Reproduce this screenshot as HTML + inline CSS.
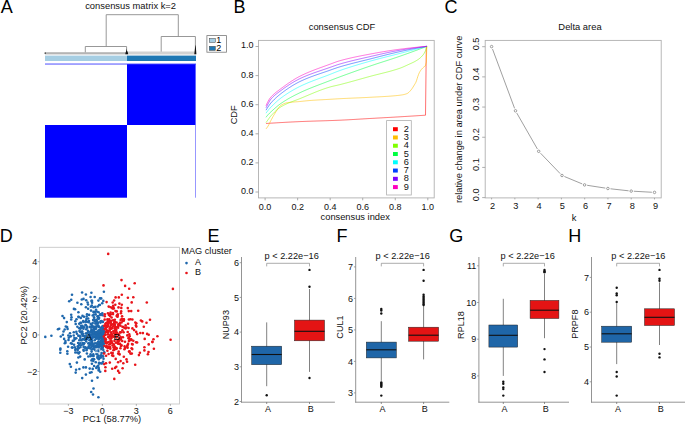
<!DOCTYPE html>
<html><head><meta charset="utf-8"><title>figure</title>
<style>
html,body{margin:0;padding:0;background:#fff;width:685px;height:425px;overflow:hidden;}
svg{display:block;}
text{font-family:"Liberation Sans", sans-serif;}
</style></head><body>
<svg width="685" height="425" viewBox="0 0 685 425">
<rect width="685" height="425" fill="#fff"/>
<text x="0.70" y="12.90" font-size="18" text-anchor="start" fill="#000" >A</text>
<text x="130.60" y="8.70" font-size="9.4" text-anchor="middle" fill="#111" >consensus matrix k=2</text>
<g fill="none" stroke="#8c8c8c" stroke-width="0.9">
<path d="M106.2,46.5 V14.7 H178.3 V36.5"/>
<path d="M85.3,52.8 V46.5 H126.6 V52.8"/>
<path d="M161.2,52.8 V36.5 H195.4 V52.8"/>
</g>
<rect x="45" y="52.2" width="82" height="2.2" fill="#b4b4b4"/>
<rect x="127" y="51.5" width="69" height="3.0" fill="#d2d2d2"/>
<path d="M125.3,54.2 Q125.6,52.2 126.3,50.8 L126.6,48.6 L127.0,50.8 Q128.0,52.2 128.2,54.2 Z" fill="#111"/>
<path d="M194.3,54.2 Q194.8,50 195.2,46.5 L195.5,44.8 L195.8,46.5 Q196.1,50 196.4,54.2 Z" fill="#111"/>
<rect x="44.6" y="52.4" width="1.2" height="1.6" fill="#444"/>
<rect x="45" y="55.6" width="82" height="5.4" fill="#a6cee3"/>
<rect x="127" y="55.6" width="69" height="5.4" fill="#1f78b4"/>
<rect x="45" y="63.4" width="151" height="1.3" fill="#7878ff"/>
<rect x="127" y="64.2" width="68.6" height="60.8" fill="#0000ff"/>
<rect x="45" y="125" width="82" height="72.7" fill="#0000ff"/>
<rect x="195.1" y="125" width="0.9" height="72.7" fill="#8c8cff"/>
<rect x="206.9" y="35.6" width="19.7" height="16.6" fill="#fff" stroke="#7a7a7a" stroke-width="0.8"/>
<rect x="209.3" y="38.4" width="6" height="4.1" fill="#a6cee3" stroke="#444" stroke-width="0.5"/>
<rect x="209.3" y="46.3" width="6" height="4.1" fill="#1f78b4" stroke="#444" stroke-width="0.5"/>
<text x="216.20" y="42.90" font-size="9" text-anchor="start" fill="#000" >1</text>
<text x="216.20" y="50.90" font-size="9" text-anchor="start" fill="#000" >2</text>
<text x="233.60" y="12.90" font-size="18" text-anchor="start" fill="#000" >B</text>
<text x="342.00" y="30.20" font-size="9.35" text-anchor="middle" fill="#111" >consensus CDF</text>
<rect x="258.5" y="40.4" width="175.7" height="157.5" fill="none" stroke="#b0b0b0" stroke-width="0.9"/>
<line x1="255.5" y1="192.00" x2="258.5" y2="192.00" stroke="#999" stroke-width="0.8"/>
<text x="253.40" y="193.90" font-size="9" text-anchor="end" fill="#111" >0.0</text>
<line x1="265.10" y1="197.9" x2="265.10" y2="200.3" stroke="#999" stroke-width="0.8"/>
<text x="265.10" y="209.70" font-size="9" text-anchor="middle" fill="#111" >0.0</text>
<line x1="255.5" y1="162.90" x2="258.5" y2="162.90" stroke="#999" stroke-width="0.8"/>
<text x="253.40" y="164.80" font-size="9" text-anchor="end" fill="#111" >0.2</text>
<line x1="297.64" y1="197.9" x2="297.64" y2="200.3" stroke="#999" stroke-width="0.8"/>
<text x="297.64" y="209.70" font-size="9" text-anchor="middle" fill="#111" >0.2</text>
<line x1="255.5" y1="133.80" x2="258.5" y2="133.80" stroke="#999" stroke-width="0.8"/>
<text x="253.40" y="135.70" font-size="9" text-anchor="end" fill="#111" >0.4</text>
<line x1="330.18" y1="197.9" x2="330.18" y2="200.3" stroke="#999" stroke-width="0.8"/>
<text x="330.18" y="209.70" font-size="9" text-anchor="middle" fill="#111" >0.4</text>
<line x1="255.5" y1="104.70" x2="258.5" y2="104.70" stroke="#999" stroke-width="0.8"/>
<text x="253.40" y="106.60" font-size="9" text-anchor="end" fill="#111" >0.6</text>
<line x1="362.72" y1="197.9" x2="362.72" y2="200.3" stroke="#999" stroke-width="0.8"/>
<text x="362.72" y="209.70" font-size="9" text-anchor="middle" fill="#111" >0.6</text>
<line x1="255.5" y1="75.60" x2="258.5" y2="75.60" stroke="#999" stroke-width="0.8"/>
<text x="253.40" y="77.50" font-size="9" text-anchor="end" fill="#111" >0.8</text>
<line x1="395.26" y1="197.9" x2="395.26" y2="200.3" stroke="#999" stroke-width="0.8"/>
<text x="395.26" y="209.70" font-size="9" text-anchor="middle" fill="#111" >0.8</text>
<line x1="255.5" y1="46.50" x2="258.5" y2="46.50" stroke="#999" stroke-width="0.8"/>
<text x="253.40" y="48.40" font-size="9" text-anchor="end" fill="#111" >1.0</text>
<line x1="427.80" y1="197.9" x2="427.80" y2="200.3" stroke="#999" stroke-width="0.8"/>
<text x="427.80" y="209.70" font-size="9" text-anchor="middle" fill="#111" >1.0</text>
<text x="237.20" y="114.80" font-size="9.3" text-anchor="middle" fill="#111" transform="rotate(-90 237.20 114.80)" >CDF</text>
<text x="355.20" y="219.80" font-size="9.3" text-anchor="middle" fill="#111" >consensus index</text>
<g fill="none" stroke-width="0.7" stroke-linejoin="round">
<polyline points="266.00,123.50 266.70,123.45 267.40,123.41 268.10,123.36 268.80,123.32 269.50,123.27 270.20,123.23 270.90,123.18 271.60,123.14 272.30,123.10 273.00,123.05 273.70,123.01 274.40,122.97 275.10,122.92 275.80,122.88 276.50,122.84 277.20,122.79 277.90,122.75 278.60,122.71 279.30,122.67 280.00,122.63 280.70,122.59 281.40,122.55 282.10,122.51 282.80,122.47 283.50,122.43 284.20,122.39 284.90,122.35 285.60,122.31 286.30,122.27 287.00,122.23 287.70,122.20 288.40,122.16 289.10,122.12 289.80,122.09 290.50,122.05 291.20,122.01 291.90,121.98 292.60,121.94 293.30,121.91 294.00,121.88 294.70,121.84 295.40,121.81 296.10,121.78 296.80,121.74 297.50,121.71 298.20,121.68 298.90,121.65 299.60,121.62 300.30,121.59 301.00,121.56 301.70,121.53 302.40,121.50 303.10,121.47 303.80,121.44 304.50,121.42 305.20,121.39 305.90,121.36 306.60,121.34 307.30,121.31 308.00,121.29 308.70,121.26 309.40,121.24 310.10,121.22 310.80,121.19 311.50,121.17 312.20,121.15 312.90,121.12 313.60,121.10 314.30,121.08 315.00,121.06 315.70,121.04 316.40,121.01 317.10,120.99 317.80,120.97 318.50,120.95 319.20,120.93 319.90,120.91 320.60,120.88 321.30,120.86 322.00,120.84 322.70,120.82 323.40,120.80 324.10,120.78 324.80,120.75 325.50,120.73 326.20,120.71 326.90,120.69 327.60,120.66 328.30,120.64 329.00,120.62 329.70,120.59 330.40,120.57 331.10,120.55 331.80,120.52 332.50,120.50 333.20,120.47 333.90,120.45 334.60,120.42 335.30,120.39 336.00,120.37 336.70,120.34 337.40,120.31 338.10,120.28 338.80,120.25 339.50,120.22 340.20,120.19 340.90,120.16 341.60,120.13 342.30,120.09 343.00,120.06 343.70,120.03 344.40,119.99 345.10,119.96 345.80,119.92 346.50,119.88 347.20,119.85 347.90,119.81 348.60,119.77 349.30,119.73 350.00,119.69 350.70,119.65 351.40,119.61 352.10,119.57 352.80,119.53 353.50,119.49 354.20,119.45 354.90,119.40 355.60,119.36 356.30,119.32 357.00,119.28 357.70,119.24 358.40,119.19 359.10,119.15 359.80,119.11 360.50,119.06 361.20,119.02 361.90,118.98 362.60,118.94 363.30,118.89 364.00,118.85 364.70,118.81 365.40,118.77 366.10,118.73 366.80,118.69 367.50,118.64 368.20,118.60 368.90,118.56 369.60,118.52 370.30,118.48 371.00,118.44 371.70,118.40 372.40,118.36 373.10,118.33 373.80,118.29 374.50,118.25 375.20,118.21 375.90,118.17 376.60,118.13 377.30,118.09 378.00,118.05 378.70,118.01 379.40,117.97 380.10,117.93 380.80,117.90 381.50,117.86 382.20,117.82 382.90,117.78 383.60,117.74 384.30,117.70 385.00,117.66 385.70,117.62 386.40,117.58 387.10,117.54 387.80,117.50 388.50,117.46 389.20,117.43 389.90,117.39 390.60,117.35 391.30,117.31 392.00,117.27 392.70,117.23 393.40,117.19 394.10,117.15 394.80,117.11 395.50,117.06 396.20,117.02 396.90,116.98 397.60,116.94 398.30,116.90 399.00,116.86 399.70,116.82 400.40,116.78 401.10,116.73 401.80,116.69 402.50,116.65 403.20,116.61 403.90,116.57 404.60,116.52 405.30,116.48 406.00,116.44 406.70,116.39 407.40,116.35 408.10,116.31 408.80,116.27 409.50,116.22 410.20,116.18 410.90,116.13 411.60,116.09 412.30,116.05 413.00,116.00 413.70,115.96 414.40,115.91 415.10,115.87 415.80,115.83 416.50,115.78 417.20,115.74 417.90,115.69 418.60,115.65 419.30,115.60 420.00,115.56 420.70,115.51 421.40,115.47 422.10,115.42 422.80,115.38 423.50,115.33 424.20,115.29 424.90,115.24 425.50,115.20 426.30,46.30" stroke="#FF0000" opacity="0.8"/>
<polyline points="266.00,128.90 266.70,128.06 267.40,127.11 268.10,126.04 268.80,124.77 269.50,123.35 270.20,121.88 270.90,120.49 271.60,119.19 272.30,117.91 273.00,116.65 273.70,115.41 274.40,114.22 275.10,113.06 275.80,111.95 276.50,110.86 277.20,109.74 277.90,108.64 278.60,107.62 279.30,106.74 280.00,106.05 280.70,105.55 281.40,105.09 282.10,104.66 282.80,104.27 283.50,103.92 284.20,103.61 284.90,103.34 285.60,103.11 286.30,102.92 287.00,102.78 287.70,102.67 288.40,102.56 289.10,102.47 289.80,102.38 290.50,102.30 291.20,102.23 291.90,102.16 292.60,102.10 293.30,102.04 294.00,101.98 294.70,101.93 295.40,101.88 296.10,101.83 296.80,101.77 297.50,101.72 298.20,101.66 298.90,101.60 299.60,101.54 300.30,101.47 301.00,101.40 301.70,101.32 302.40,101.25 303.10,101.18 303.80,101.10 304.50,101.03 305.20,100.95 305.90,100.88 306.60,100.81 307.30,100.74 308.00,100.67 308.70,100.61 309.40,100.55 310.10,100.49 310.80,100.44 311.50,100.39 312.20,100.34 312.90,100.29 313.60,100.24 314.30,100.20 315.00,100.15 315.70,100.11 316.40,100.07 317.10,100.02 317.80,99.98 318.50,99.94 319.20,99.90 319.90,99.86 320.60,99.82 321.30,99.79 322.00,99.75 322.70,99.71 323.40,99.67 324.10,99.63 324.80,99.59 325.50,99.56 326.20,99.52 326.90,99.48 327.60,99.44 328.30,99.40 329.00,99.36 329.70,99.32 330.40,99.28 331.10,99.23 331.80,99.19 332.50,99.15 333.20,99.10 333.90,99.06 334.60,99.02 335.30,98.97 336.00,98.93 336.70,98.89 337.40,98.85 338.10,98.81 338.80,98.77 339.50,98.73 340.20,98.69 340.90,98.65 341.60,98.62 342.30,98.58 343.00,98.55 343.70,98.51 344.40,98.48 345.10,98.44 345.80,98.41 346.50,98.38 347.20,98.35 347.90,98.32 348.60,98.28 349.30,98.25 350.00,98.22 350.70,98.19 351.40,98.16 352.10,98.13 352.80,98.10 353.50,98.07 354.20,98.04 354.90,98.01 355.60,97.98 356.30,97.95 357.00,97.92 357.70,97.89 358.40,97.86 359.10,97.83 359.80,97.80 360.50,97.77 361.20,97.74 361.90,97.71 362.60,97.67 363.30,97.64 364.00,97.61 364.70,97.58 365.40,97.54 366.10,97.51 366.80,97.47 367.50,97.43 368.20,97.40 368.90,97.36 369.60,97.32 370.30,97.28 371.00,97.24 371.70,97.21 372.40,97.17 373.10,97.13 373.80,97.10 374.50,97.06 375.20,97.02 375.90,96.99 376.60,96.95 377.30,96.92 378.00,96.88 378.70,96.84 379.40,96.81 380.10,96.77 380.80,96.73 381.50,96.69 382.20,96.65 382.90,96.62 383.60,96.57 384.30,96.53 385.00,96.49 385.70,96.45 386.40,96.40 387.10,96.36 387.80,96.31 388.50,96.26 389.20,96.21 389.90,96.16 390.60,96.11 391.30,96.06 392.00,96.00 392.70,95.94 393.40,95.88 394.10,95.82 394.80,95.75 395.50,95.69 396.20,95.62 396.90,95.55 397.60,95.47 398.30,95.40 399.00,95.32 399.70,95.24 400.40,95.15 401.10,95.06 401.80,94.95 402.50,94.83 403.20,94.70 403.90,94.54 404.60,94.37 405.30,94.18 406.00,93.96 406.70,93.71 407.40,93.42 408.10,92.96 408.80,92.37 409.50,91.67 410.20,90.91 410.90,90.11 411.60,89.25 412.30,88.24 413.00,87.14 413.70,85.99 414.40,84.86 415.10,83.73 415.80,82.43 416.50,80.70 417.20,78.47 417.90,76.28 418.60,74.36 419.30,72.69 420.00,71.45 420.70,70.39 421.40,69.48 422.10,68.69 422.80,67.97 423.50,67.31 424.20,66.72 424.90,66.23 425.30,66.00 426.30,62.00 426.80,46.30" stroke="#FFBF00" opacity="0.8"/>
<polyline points="266.00,122.60 266.70,121.61 267.40,120.63 268.10,119.66 268.80,118.68 269.50,117.70 270.20,116.77 270.90,115.91 271.60,115.14 272.30,114.38 273.00,113.63 273.70,112.91 274.40,112.20 275.10,111.51 275.80,110.85 276.50,110.21 277.20,109.60 277.90,109.01 278.60,108.46 279.30,107.93 280.00,107.44 280.70,106.98 281.40,106.56 282.10,106.15 282.80,105.76 283.50,105.39 284.20,105.02 284.90,104.67 285.60,104.34 286.30,104.01 287.00,103.69 287.70,103.39 288.40,103.09 289.10,102.80 289.80,102.51 290.50,102.23 291.20,101.96 291.90,101.69 292.60,101.43 293.30,101.16 294.00,100.90 294.70,100.64 295.40,100.38 296.10,100.12 296.80,99.85 297.50,99.59 298.20,99.32 298.90,99.04 299.60,98.76 300.30,98.48 301.00,98.19 301.70,97.90 302.40,97.61 303.10,97.32 303.80,97.02 304.50,96.73 305.20,96.43 305.90,96.14 306.60,95.84 307.30,95.55 308.00,95.25 308.70,94.95 309.40,94.66 310.10,94.36 310.80,94.07 311.50,93.78 312.20,93.49 312.90,93.19 313.60,92.91 314.30,92.62 315.00,92.33 315.70,92.05 316.40,91.77 317.10,91.49 317.80,91.21 318.50,90.94 319.20,90.67 319.90,90.40 320.60,90.14 321.30,89.88 322.00,89.62 322.70,89.37 323.40,89.12 324.10,88.87 324.80,88.63 325.50,88.40 326.20,88.17 326.90,87.94 327.60,87.72 328.30,87.50 329.00,87.29 329.70,87.09 330.40,86.89 331.10,86.70 331.80,86.52 332.50,86.34 333.20,86.17 333.90,86.01 334.60,85.85 335.30,85.69 336.00,85.54 336.70,85.38 337.40,85.22 338.10,85.06 338.80,84.89 339.50,84.72 340.20,84.55 340.90,84.37 341.60,84.19 342.30,84.01 343.00,83.83 343.70,83.65 344.40,83.46 345.10,83.28 345.80,83.09 346.50,82.91 347.20,82.72 347.90,82.53 348.60,82.34 349.30,82.15 350.00,81.96 350.70,81.77 351.40,81.57 352.10,81.38 352.80,81.19 353.50,80.99 354.20,80.80 354.90,80.60 355.60,80.41 356.30,80.21 357.00,80.02 357.70,79.82 358.40,79.63 359.10,79.43 359.80,79.23 360.50,79.04 361.20,78.84 361.90,78.65 362.60,78.45 363.30,78.26 364.00,78.06 364.70,77.86 365.40,77.67 366.10,77.48 366.80,77.28 367.50,77.09 368.20,76.89 368.90,76.70 369.60,76.51 370.30,76.32 371.00,76.13 371.70,75.94 372.40,75.76 373.10,75.57 373.80,75.39 374.50,75.21 375.20,75.04 375.90,74.86 376.60,74.68 377.30,74.51 378.00,74.33 378.70,74.16 379.40,73.99 380.10,73.81 380.80,73.64 381.50,73.46 382.20,73.29 382.90,73.12 383.60,72.94 384.30,72.76 385.00,72.59 385.70,72.41 386.40,72.23 387.10,72.05 387.80,71.86 388.50,71.68 389.20,71.49 389.90,71.30 390.60,71.11 391.30,70.91 392.00,70.72 392.70,70.52 393.40,70.31 394.10,70.10 394.80,69.89 395.50,69.68 396.20,69.46 396.90,69.24 397.60,69.01 398.30,68.78 399.00,68.54 399.70,68.30 400.40,68.06 401.10,67.80 401.80,67.52 402.50,67.23 403.20,66.93 403.90,66.62 404.60,66.31 405.30,65.99 406.00,65.66 406.70,65.34 407.40,65.02 408.10,64.70 408.80,64.38 409.50,64.07 410.20,63.76 410.90,63.44 411.60,63.12 412.30,62.79 413.00,62.46 413.70,62.11 414.40,61.75 415.10,61.37 415.80,60.98 416.50,60.56 417.20,60.13 417.90,59.67 418.60,59.18 419.30,58.65 420.00,58.07 420.70,57.45 421.40,56.77 422.10,56.04 422.80,55.24 423.50,54.35 424.20,53.28 424.90,52.00 425.60,50.44 426.30,48.51 427.00,46.30 427.00,46.30" stroke="#80FF00" opacity="0.8"/>
<polyline points="266.00,117.30 266.70,116.37 267.40,115.50 268.10,114.69 268.80,113.94 269.50,113.23 270.20,112.55 270.90,111.89 271.60,111.24 272.30,110.60 273.00,109.96 273.70,109.33 274.40,108.70 275.10,108.08 275.80,107.47 276.50,106.88 277.20,106.29 277.90,105.72 278.60,105.17 279.30,104.63 280.00,104.11 280.70,103.61 281.40,103.13 282.10,102.65 282.80,102.19 283.50,101.73 284.20,101.28 284.90,100.84 285.60,100.41 286.30,99.98 287.00,99.56 287.70,99.14 288.40,98.73 289.10,98.33 289.80,97.94 290.50,97.55 291.20,97.16 291.90,96.78 292.60,96.41 293.30,96.04 294.00,95.67 294.70,95.31 295.40,94.95 296.10,94.60 296.80,94.25 297.50,93.91 298.20,93.57 298.90,93.23 299.60,92.89 300.30,92.56 301.00,92.23 301.70,91.90 302.40,91.58 303.10,91.26 303.80,90.95 304.50,90.64 305.20,90.33 305.90,90.03 306.60,89.73 307.30,89.43 308.00,89.14 308.70,88.85 309.40,88.56 310.10,88.27 310.80,87.99 311.50,87.71 312.20,87.43 312.90,87.15 313.60,86.87 314.30,86.60 315.00,86.33 315.70,86.05 316.40,85.78 317.10,85.52 317.80,85.25 318.50,84.98 319.20,84.71 319.90,84.45 320.60,84.18 321.30,83.92 322.00,83.65 322.70,83.39 323.40,83.12 324.10,82.86 324.80,82.59 325.50,82.33 326.20,82.06 326.90,81.79 327.60,81.53 328.30,81.26 329.00,80.99 329.70,80.72 330.40,80.44 331.10,80.17 331.80,79.90 332.50,79.63 333.20,79.36 333.90,79.10 334.60,78.83 335.30,78.56 336.00,78.30 336.70,78.03 337.40,77.77 338.10,77.51 338.80,77.25 339.50,76.99 340.20,76.73 340.90,76.47 341.60,76.21 342.30,75.95 343.00,75.69 343.70,75.44 344.40,75.18 345.10,74.92 345.80,74.67 346.50,74.41 347.20,74.16 347.90,73.90 348.60,73.65 349.30,73.40 350.00,73.14 350.70,72.89 351.40,72.64 352.10,72.39 352.80,72.14 353.50,71.88 354.20,71.63 354.90,71.38 355.60,71.13 356.30,70.89 357.00,70.64 357.70,70.39 358.40,70.14 359.10,69.89 359.80,69.65 360.50,69.40 361.20,69.15 361.90,68.91 362.60,68.66 363.30,68.42 364.00,68.17 364.70,67.93 365.40,67.69 366.10,67.44 366.80,67.20 367.50,66.96 368.20,66.72 368.90,66.48 369.60,66.24 370.30,66.00 371.00,65.76 371.70,65.52 372.40,65.29 373.10,65.05 373.80,64.82 374.50,64.58 375.20,64.35 375.90,64.12 376.60,63.89 377.30,63.66 378.00,63.43 378.70,63.20 379.40,62.98 380.10,62.75 380.80,62.52 381.50,62.30 382.20,62.07 382.90,61.85 383.60,61.62 384.30,61.39 385.00,61.17 385.70,60.94 386.40,60.72 387.10,60.49 387.80,60.26 388.50,60.04 389.20,59.81 389.90,59.58 390.60,59.35 391.30,59.13 392.00,58.90 392.70,58.67 393.40,58.43 394.10,58.20 394.80,57.97 395.50,57.74 396.20,57.50 396.90,57.26 397.60,57.03 398.30,56.79 399.00,56.55 399.70,56.30 400.40,56.06 401.10,55.82 401.80,55.57 402.50,55.33 403.20,55.08 403.90,54.83 404.60,54.58 405.30,54.34 406.00,54.09 406.70,53.84 407.40,53.59 408.10,53.33 408.80,53.08 409.50,52.83 410.20,52.58 410.90,52.32 411.60,52.07 412.30,51.81 413.00,51.56 413.70,51.30 414.40,51.04 415.10,50.78 415.80,50.52 416.50,50.27 417.20,50.01 417.90,49.74 418.60,49.48 419.30,49.22 420.00,48.96 420.70,48.70 421.40,48.43 422.10,48.17 422.80,47.90 423.50,47.64 424.20,47.37 424.90,47.10 425.60,46.84 426.30,46.57 427.00,46.30 427.00,46.30" stroke="#00FF40" opacity="0.8"/>
<polyline points="266.00,113.20 266.70,112.21 267.40,111.27 268.10,110.38 268.80,109.53 269.50,108.72 270.20,107.95 270.90,107.20 271.60,106.49 272.30,105.78 273.00,105.07 273.70,104.38 274.40,103.70 275.10,103.04 275.80,102.38 276.50,101.74 277.20,101.11 277.90,100.50 278.60,99.90 279.30,99.33 280.00,98.77 280.70,98.23 281.40,97.70 282.10,97.19 282.80,96.68 283.50,96.18 284.20,95.69 284.90,95.21 285.60,94.73 286.30,94.26 287.00,93.80 287.70,93.35 288.40,92.90 289.10,92.46 289.80,92.02 290.50,91.59 291.20,91.17 291.90,90.76 292.60,90.35 293.30,89.95 294.00,89.55 294.70,89.16 295.40,88.78 296.10,88.40 296.80,88.03 297.50,87.66 298.20,87.30 298.90,86.95 299.60,86.60 300.30,86.25 301.00,85.91 301.70,85.58 302.40,85.25 303.10,84.93 303.80,84.61 304.50,84.30 305.20,83.99 305.90,83.69 306.60,83.39 307.30,83.09 308.00,82.80 308.70,82.51 309.40,82.22 310.10,81.94 310.80,81.66 311.50,81.39 312.20,81.11 312.90,80.84 313.60,80.57 314.30,80.30 315.00,80.04 315.70,79.77 316.40,79.51 317.10,79.25 317.80,78.99 318.50,78.73 319.20,78.47 319.90,78.21 320.60,77.95 321.30,77.69 322.00,77.43 322.70,77.17 323.40,76.91 324.10,76.65 324.80,76.39 325.50,76.13 326.20,75.86 326.90,75.60 327.60,75.33 328.30,75.06 329.00,74.79 329.70,74.52 330.40,74.24 331.10,73.96 331.80,73.68 332.50,73.40 333.20,73.12 333.90,72.84 334.60,72.56 335.30,72.28 336.00,72.00 336.70,71.73 337.40,71.46 338.10,71.19 338.80,70.93 339.50,70.68 340.20,70.43 340.90,70.18 341.60,69.94 342.30,69.70 343.00,69.46 343.70,69.22 344.40,68.99 345.10,68.75 345.80,68.52 346.50,68.29 347.20,68.06 347.90,67.83 348.60,67.60 349.30,67.38 350.00,67.15 350.70,66.93 351.40,66.71 352.10,66.49 352.80,66.27 353.50,66.05 354.20,65.84 354.90,65.62 355.60,65.41 356.30,65.19 357.00,64.98 357.70,64.77 358.40,64.56 359.10,64.35 359.80,64.14 360.50,63.94 361.20,63.73 361.90,63.53 362.60,63.32 363.30,63.12 364.00,62.92 364.70,62.71 365.40,62.51 366.10,62.31 366.80,62.11 367.50,61.91 368.20,61.71 368.90,61.51 369.60,61.31 370.30,61.12 371.00,60.92 371.70,60.72 372.40,60.53 373.10,60.34 373.80,60.15 374.50,59.96 375.20,59.77 375.90,59.58 376.60,59.39 377.30,59.21 378.00,59.02 378.70,58.84 379.40,58.66 380.10,58.48 380.80,58.29 381.50,58.11 382.20,57.93 382.90,57.76 383.60,57.58 384.30,57.40 385.00,57.22 385.70,57.04 386.40,56.87 387.10,56.69 387.80,56.51 388.50,56.33 389.20,56.16 389.90,55.98 390.60,55.80 391.30,55.63 392.00,55.45 392.70,55.27 393.40,55.10 394.10,54.92 394.80,54.74 395.50,54.56 396.20,54.38 396.90,54.20 397.60,54.02 398.30,53.84 399.00,53.66 399.70,53.48 400.40,53.30 401.10,53.11 401.80,52.93 402.50,52.75 403.20,52.56 403.90,52.38 404.60,52.20 405.30,52.01 406.00,51.83 406.70,51.65 407.40,51.46 408.10,51.28 408.80,51.09 409.50,50.91 410.20,50.73 410.90,50.54 411.60,50.36 412.30,50.18 413.00,49.99 413.70,49.81 414.40,49.62 415.10,49.44 415.80,49.25 416.50,49.07 417.20,48.89 417.90,48.70 418.60,48.52 419.30,48.33 420.00,48.15 420.70,47.96 421.40,47.78 422.10,47.59 422.80,47.41 423.50,47.22 424.20,47.04 424.90,46.85 425.60,46.67 426.30,46.49 427.00,46.30 427.00,46.30" stroke="#00FFFF" opacity="0.8"/>
<polyline points="266.00,110.20 266.70,109.04 267.40,107.92 268.10,106.85 268.80,105.80 269.50,104.80 270.20,103.86 270.90,103.03 271.60,102.24 272.30,101.47 273.00,100.73 273.70,100.01 274.40,99.31 275.10,98.64 275.80,97.98 276.50,97.34 277.20,96.72 277.90,96.11 278.60,95.52 279.30,94.95 280.00,94.39 280.70,93.83 281.40,93.29 282.10,92.76 282.80,92.23 283.50,91.70 284.20,91.19 284.90,90.68 285.60,90.18 286.30,89.68 287.00,89.19 287.70,88.71 288.40,88.24 289.10,87.77 289.80,87.31 290.50,86.86 291.20,86.41 291.90,85.97 292.60,85.54 293.30,85.12 294.00,84.71 294.70,84.30 295.40,83.91 296.10,83.52 296.80,83.13 297.50,82.76 298.20,82.40 298.90,82.04 299.60,81.69 300.30,81.36 301.00,81.02 301.70,80.70 302.40,80.38 303.10,80.06 303.80,79.75 304.50,79.45 305.20,79.15 305.90,78.85 306.60,78.56 307.30,78.28 308.00,78.00 308.70,77.72 309.40,77.44 310.10,77.17 310.80,76.91 311.50,76.64 312.20,76.38 312.90,76.13 313.60,75.87 314.30,75.62 315.00,75.37 315.70,75.12 316.40,74.87 317.10,74.63 317.80,74.39 318.50,74.15 319.20,73.91 319.90,73.67 320.60,73.43 321.30,73.19 322.00,72.95 322.70,72.71 323.40,72.48 324.10,72.24 324.80,72.00 325.50,71.76 326.20,71.52 326.90,71.28 327.60,71.04 328.30,70.80 329.00,70.55 329.70,70.31 330.40,70.06 331.10,69.81 331.80,69.56 332.50,69.31 333.20,69.06 333.90,68.82 334.60,68.57 335.30,68.33 336.00,68.09 336.70,67.85 337.40,67.62 338.10,67.39 338.80,67.17 339.50,66.95 340.20,66.74 340.90,66.53 341.60,66.32 342.30,66.12 343.00,65.92 343.70,65.72 344.40,65.52 345.10,65.32 345.80,65.13 346.50,64.94 347.20,64.75 347.90,64.56 348.60,64.37 349.30,64.19 350.00,64.00 350.70,63.82 351.40,63.64 352.10,63.46 352.80,63.28 353.50,63.10 354.20,62.92 354.90,62.74 355.60,62.57 356.30,62.39 357.00,62.22 357.70,62.05 358.40,61.87 359.10,61.70 359.80,61.53 360.50,61.35 361.20,61.18 361.90,61.01 362.60,60.84 363.30,60.67 364.00,60.49 364.70,60.32 365.40,60.15 366.10,59.98 366.80,59.80 367.50,59.63 368.20,59.45 368.90,59.28 369.60,59.10 370.30,58.92 371.00,58.75 371.70,58.57 372.40,58.39 373.10,58.21 373.80,58.03 374.50,57.85 375.20,57.67 375.90,57.49 376.60,57.31 377.30,57.13 378.00,56.95 378.70,56.77 379.40,56.59 380.10,56.42 380.80,56.24 381.50,56.06 382.20,55.88 382.90,55.70 383.60,55.52 384.30,55.35 385.00,55.17 385.70,54.99 386.40,54.82 387.10,54.64 387.80,54.47 388.50,54.29 389.20,54.12 389.90,53.95 390.60,53.78 391.30,53.61 392.00,53.44 392.70,53.27 393.40,53.11 394.10,52.94 394.80,52.78 395.50,52.61 396.20,52.45 396.90,52.29 397.60,52.13 398.30,51.98 399.00,51.82 399.70,51.67 400.40,51.51 401.10,51.36 401.80,51.21 402.50,51.06 403.20,50.91 403.90,50.76 404.60,50.61 405.30,50.46 406.00,50.32 406.70,50.17 407.40,50.03 408.10,49.88 408.80,49.74 409.50,49.60 410.20,49.45 410.90,49.31 411.60,49.17 412.30,49.03 413.00,48.89 413.70,48.76 414.40,48.62 415.10,48.48 415.80,48.35 416.50,48.21 417.20,48.08 417.90,47.95 418.60,47.81 419.30,47.68 420.00,47.55 420.70,47.42 421.40,47.30 422.10,47.17 422.80,47.04 423.50,46.92 424.20,46.79 424.90,46.67 425.60,46.54 426.30,46.42 427.00,46.30 427.00,46.30" stroke="#0040FF" opacity="0.8"/>
<polyline points="266.00,107.80 266.70,106.44 267.40,105.11 268.10,103.82 268.80,102.49 269.50,101.19 270.20,100.07 270.90,99.19 271.60,98.37 272.30,97.61 273.00,96.89 273.70,96.22 274.40,95.58 275.10,94.97 275.80,94.39 276.50,93.83 277.20,93.29 277.90,92.77 278.60,92.25 279.30,91.74 280.00,91.23 280.70,90.72 281.40,90.20 282.10,89.69 282.80,89.18 283.50,88.67 284.20,88.17 284.90,87.68 285.60,87.19 286.30,86.70 287.00,86.22 287.70,85.75 288.40,85.28 289.10,84.82 289.80,84.37 290.50,83.92 291.20,83.48 291.90,83.04 292.60,82.62 293.30,82.20 294.00,81.79 294.70,81.38 295.40,80.99 296.10,80.60 296.80,80.22 297.50,79.85 298.20,79.49 298.90,79.14 299.60,78.79 300.30,78.46 301.00,78.13 301.70,77.81 302.40,77.49 303.10,77.18 303.80,76.87 304.50,76.57 305.20,76.28 305.90,75.98 306.60,75.70 307.30,75.41 308.00,75.14 308.70,74.86 309.40,74.59 310.10,74.32 310.80,74.06 311.50,73.80 312.20,73.54 312.90,73.29 313.60,73.03 314.30,72.78 315.00,72.54 315.70,72.29 316.40,72.05 317.10,71.80 317.80,71.56 318.50,71.32 319.20,71.09 319.90,70.85 320.60,70.61 321.30,70.37 322.00,70.14 322.70,69.90 323.40,69.67 324.10,69.43 324.80,69.19 325.50,68.95 326.20,68.72 326.90,68.48 327.60,68.24 328.30,67.99 329.00,67.75 329.70,67.51 330.40,67.26 331.10,67.01 331.80,66.76 332.50,66.51 333.20,66.26 333.90,66.01 334.60,65.77 335.30,65.52 336.00,65.28 336.70,65.04 337.40,64.81 338.10,64.58 338.80,64.36 339.50,64.15 340.20,63.94 340.90,63.74 341.60,63.54 342.30,63.34 343.00,63.14 343.70,62.95 344.40,62.75 345.10,62.56 345.80,62.38 346.50,62.19 347.20,62.00 347.90,61.82 348.60,61.64 349.30,61.46 350.00,61.28 350.70,61.11 351.40,60.93 352.10,60.76 352.80,60.59 353.50,60.42 354.20,60.25 354.90,60.08 355.60,59.91 356.30,59.75 357.00,59.58 357.70,59.42 358.40,59.25 359.10,59.09 359.80,58.93 360.50,58.77 361.20,58.61 361.90,58.45 362.60,58.29 363.30,58.13 364.00,57.97 364.70,57.81 365.40,57.65 366.10,57.49 366.80,57.33 367.50,57.17 368.20,57.01 368.90,56.85 369.60,56.69 370.30,56.53 371.00,56.37 371.70,56.21 372.40,56.05 373.10,55.89 373.80,55.73 374.50,55.57 375.20,55.40 375.90,55.24 376.60,55.08 377.30,54.92 378.00,54.76 378.70,54.60 379.40,54.44 380.10,54.28 380.80,54.12 381.50,53.97 382.20,53.81 382.90,53.65 383.60,53.50 384.30,53.34 385.00,53.19 385.70,53.03 386.40,52.88 387.10,52.73 387.80,52.58 388.50,52.43 389.20,52.28 389.90,52.13 390.60,51.99 391.30,51.85 392.00,51.70 392.70,51.56 393.40,51.42 394.10,51.29 394.80,51.15 395.50,51.02 396.20,50.88 396.90,50.75 397.60,50.62 398.30,50.50 399.00,50.37 399.70,50.25 400.40,50.13 401.10,50.01 401.80,49.89 402.50,49.78 403.20,49.66 403.90,49.54 404.60,49.43 405.30,49.31 406.00,49.20 406.70,49.09 407.40,48.98 408.10,48.87 408.80,48.76 409.50,48.65 410.20,48.54 410.90,48.43 411.60,48.33 412.30,48.22 413.00,48.12 413.70,48.02 414.40,47.92 415.10,47.82 415.80,47.72 416.50,47.62 417.20,47.52 417.90,47.43 418.60,47.33 419.30,47.24 420.00,47.15 420.70,47.06 421.40,46.97 422.10,46.88 422.80,46.79 423.50,46.71 424.20,46.62 424.90,46.54 425.60,46.46 426.30,46.38 427.00,46.30 427.00,46.30" stroke="#8000FF" opacity="0.8"/>
<polyline points="266.00,105.80 266.70,104.17 267.40,102.66 268.10,101.32 268.80,100.07 269.50,98.93 270.20,97.95 270.90,97.12 271.60,96.35 272.30,95.62 273.00,94.93 273.70,94.28 274.40,93.66 275.10,93.06 275.80,92.49 276.50,91.94 277.20,91.41 277.90,90.88 278.60,90.37 279.30,89.86 280.00,89.34 280.70,88.82 281.40,88.30 282.10,87.78 282.80,87.26 283.50,86.74 284.20,86.23 284.90,85.72 285.60,85.21 286.30,84.71 287.00,84.22 287.70,83.72 288.40,83.24 289.10,82.76 289.80,82.28 290.50,81.82 291.20,81.35 291.90,80.90 292.60,80.45 293.30,80.01 294.00,79.57 294.70,79.15 295.40,78.73 296.10,78.32 296.80,77.92 297.50,77.53 298.20,77.14 298.90,76.77 299.60,76.40 300.30,76.05 301.00,75.70 301.70,75.36 302.40,75.02 303.10,74.69 303.80,74.36 304.50,74.04 305.20,73.72 305.90,73.41 306.60,73.10 307.30,72.80 308.00,72.50 308.70,72.20 309.40,71.91 310.10,71.62 310.80,71.34 311.50,71.06 312.20,70.78 312.90,70.50 313.60,70.23 314.30,69.96 315.00,69.69 315.70,69.42 316.40,69.16 317.10,68.90 317.80,68.64 318.50,68.38 319.20,68.12 319.90,67.87 320.60,67.61 321.30,67.36 322.00,67.10 322.70,66.85 323.40,66.60 324.10,66.34 324.80,66.09 325.50,65.84 326.20,65.59 326.90,65.33 327.60,65.08 328.30,64.82 329.00,64.57 329.70,64.31 330.40,64.05 331.10,63.79 331.80,63.53 332.50,63.27 333.20,63.00 333.90,62.74 334.60,62.49 335.30,62.23 336.00,61.98 336.70,61.74 337.40,61.50 338.10,61.27 338.80,61.05 339.50,60.84 340.20,60.64 340.90,60.45 341.60,60.26 342.30,60.07 343.00,59.88 343.70,59.70 344.40,59.52 345.10,59.34 345.80,59.16 346.50,58.99 347.20,58.82 347.90,58.65 348.60,58.48 349.30,58.32 350.00,58.16 350.70,58.00 351.40,57.84 352.10,57.68 352.80,57.53 353.50,57.37 354.20,57.22 354.90,57.07 355.60,56.92 356.30,56.78 357.00,56.63 357.70,56.49 358.40,56.34 359.10,56.20 359.80,56.06 360.50,55.92 361.20,55.78 361.90,55.64 362.60,55.51 363.30,55.37 364.00,55.24 364.70,55.10 365.40,54.97 366.10,54.84 366.80,54.70 367.50,54.57 368.20,54.44 368.90,54.31 369.60,54.18 370.30,54.04 371.00,53.91 371.70,53.78 372.40,53.65 373.10,53.52 373.80,53.39 374.50,53.27 375.20,53.14 375.90,53.01 376.60,52.89 377.30,52.76 378.00,52.64 378.70,52.51 379.40,52.39 380.10,52.27 380.80,52.14 381.50,52.02 382.20,51.90 382.90,51.78 383.60,51.67 384.30,51.55 385.00,51.43 385.70,51.32 386.40,51.20 387.10,51.09 387.80,50.97 388.50,50.86 389.20,50.75 389.90,50.64 390.60,50.53 391.30,50.43 392.00,50.32 392.70,50.22 393.40,50.11 394.10,50.01 394.80,49.91 395.50,49.81 396.20,49.71 396.90,49.61 397.60,49.52 398.30,49.42 399.00,49.33 399.70,49.24 400.40,49.15 401.10,49.06 401.80,48.97 402.50,48.88 403.20,48.79 403.90,48.71 404.60,48.62 405.30,48.53 406.00,48.45 406.70,48.36 407.40,48.28 408.10,48.20 408.80,48.12 409.50,48.04 410.20,47.96 410.90,47.88 411.60,47.80 412.30,47.72 413.00,47.64 413.70,47.57 414.40,47.49 415.10,47.42 415.80,47.34 416.50,47.27 417.20,47.20 417.90,47.13 418.60,47.06 419.30,46.99 420.00,46.92 420.70,46.85 421.40,46.79 422.10,46.72 422.80,46.66 423.50,46.60 424.20,46.54 424.90,46.47 425.60,46.42 426.30,46.36 427.00,46.30 427.00,46.30" stroke="#FF00BF" opacity="0.8"/>
</g>
<rect x="386.6" y="120.6" width="24.7" height="74.4" fill="#fff" stroke="#b0b0b0" stroke-width="0.8"/>
<rect x="393" y="127.20" width="4.8" height="4.0" fill="#FF0000"/>
<text x="403.80" y="131.80" font-size="9.2" text-anchor="start" fill="#111" >2</text>
<rect x="393" y="135.47" width="4.8" height="4.0" fill="#FFBF00"/>
<text x="403.80" y="140.07" font-size="9.2" text-anchor="start" fill="#111" >3</text>
<rect x="393" y="143.74" width="4.8" height="4.0" fill="#80FF00"/>
<text x="403.80" y="148.34" font-size="9.2" text-anchor="start" fill="#111" >4</text>
<rect x="393" y="152.01" width="4.8" height="4.0" fill="#00FF40"/>
<text x="403.80" y="156.61" font-size="9.2" text-anchor="start" fill="#111" >5</text>
<rect x="393" y="160.28" width="4.8" height="4.0" fill="#00FFFF"/>
<text x="403.80" y="164.88" font-size="9.2" text-anchor="start" fill="#111" >6</text>
<rect x="393" y="168.55" width="4.8" height="4.0" fill="#0040FF"/>
<text x="403.80" y="173.15" font-size="9.2" text-anchor="start" fill="#111" >7</text>
<rect x="393" y="176.82" width="4.8" height="4.0" fill="#8000FF"/>
<text x="403.80" y="181.42" font-size="9.2" text-anchor="start" fill="#111" >8</text>
<rect x="393" y="185.09" width="4.8" height="4.0" fill="#FF00BF"/>
<text x="403.80" y="189.69" font-size="9.2" text-anchor="start" fill="#111" >9</text>
<text x="444.50" y="12.90" font-size="18" text-anchor="start" fill="#000" >C</text>
<text x="580.00" y="30.00" font-size="9.4" text-anchor="middle" fill="#111" >Delta area</text>
<rect x="485.2" y="40.4" width="176.0" height="157.5" fill="none" stroke="#b0b0b0" stroke-width="0.9"/>
<line x1="482.2" y1="197.60" x2="485.2" y2="197.60" stroke="#999" stroke-width="0.8"/>
<text x="478.60" y="194.80" font-size="9.2" text-anchor="middle" fill="#111" transform="rotate(-90 478.60 194.80)" >0.0</text>
<line x1="482.2" y1="167.42" x2="485.2" y2="167.42" stroke="#999" stroke-width="0.8"/>
<text x="478.60" y="164.62" font-size="9.2" text-anchor="middle" fill="#111" transform="rotate(-90 478.60 164.62)" >0.1</text>
<line x1="482.2" y1="137.24" x2="485.2" y2="137.24" stroke="#999" stroke-width="0.8"/>
<text x="478.60" y="134.44" font-size="9.2" text-anchor="middle" fill="#111" transform="rotate(-90 478.60 134.44)" >0.2</text>
<line x1="482.2" y1="107.06" x2="485.2" y2="107.06" stroke="#999" stroke-width="0.8"/>
<text x="478.60" y="104.26" font-size="9.2" text-anchor="middle" fill="#111" transform="rotate(-90 478.60 104.26)" >0.3</text>
<line x1="482.2" y1="76.88" x2="485.2" y2="76.88" stroke="#999" stroke-width="0.8"/>
<text x="478.60" y="74.08" font-size="9.2" text-anchor="middle" fill="#111" transform="rotate(-90 478.60 74.08)" >0.4</text>
<line x1="482.2" y1="46.70" x2="485.2" y2="46.70" stroke="#999" stroke-width="0.8"/>
<text x="478.60" y="43.90" font-size="9.2" text-anchor="middle" fill="#111" transform="rotate(-90 478.60 43.90)" >0.5</text>
<line x1="491.60" y1="197.9" x2="491.60" y2="199.4" stroke="#999" stroke-width="0.8"/>
<text x="492.60" y="208.80" font-size="9.2" text-anchor="middle" fill="#111" >2</text>
<line x1="514.87" y1="197.9" x2="514.87" y2="199.4" stroke="#999" stroke-width="0.8"/>
<text x="515.87" y="208.80" font-size="9.2" text-anchor="middle" fill="#111" >3</text>
<line x1="538.14" y1="197.9" x2="538.14" y2="199.4" stroke="#999" stroke-width="0.8"/>
<text x="539.14" y="208.80" font-size="9.2" text-anchor="middle" fill="#111" >4</text>
<line x1="561.41" y1="197.9" x2="561.41" y2="199.4" stroke="#999" stroke-width="0.8"/>
<text x="562.41" y="208.80" font-size="9.2" text-anchor="middle" fill="#111" >5</text>
<line x1="584.68" y1="197.9" x2="584.68" y2="199.4" stroke="#999" stroke-width="0.8"/>
<text x="585.68" y="208.80" font-size="9.2" text-anchor="middle" fill="#111" >6</text>
<line x1="607.95" y1="197.9" x2="607.95" y2="199.4" stroke="#999" stroke-width="0.8"/>
<text x="608.95" y="208.80" font-size="9.2" text-anchor="middle" fill="#111" >7</text>
<line x1="631.22" y1="197.9" x2="631.22" y2="199.4" stroke="#999" stroke-width="0.8"/>
<text x="632.22" y="208.80" font-size="9.2" text-anchor="middle" fill="#111" >8</text>
<line x1="654.49" y1="197.9" x2="654.49" y2="199.4" stroke="#999" stroke-width="0.8"/>
<text x="655.49" y="208.80" font-size="9.2" text-anchor="middle" fill="#111" >9</text>
<text x="461.90" y="119.30" font-size="9.3" text-anchor="middle" fill="#111" transform="rotate(-90 461.90 119.30)" >relative change in area under CDF curve</text>
<text x="574.10" y="220.80" font-size="9.3" text-anchor="middle" fill="#111" >k</text>
<g fill="none" stroke="#777" stroke-width="0.7">
<line x1="492.51" y1="49.04" x2="514.59" y2="108.36"/>
<line x1="516.79" y1="113.06" x2="537.41" y2="149.04"/>
<line x1="540.50" y1="153.17" x2="560.20" y2="173.63"/>
<line x1="564.40" y1="176.50" x2="582.20" y2="183.90"/>
<line x1="587.17" y1="185.30" x2="605.33" y2="188.10"/>
<line x1="610.48" y1="188.79" x2="628.62" y2="190.81"/>
<line x1="633.80" y1="191.24" x2="651.90" y2="192.26"/>
<circle cx="491.6" cy="46.6" r="1.25"/>
<circle cx="515.5" cy="110.8" r="1.25"/>
<circle cx="538.7" cy="151.3" r="1.25"/>
<circle cx="562.0" cy="175.5" r="1.25"/>
<circle cx="584.6" cy="184.9" r="1.25"/>
<circle cx="607.9" cy="188.5" r="1.25"/>
<circle cx="631.2" cy="191.1" r="1.25"/>
<circle cx="654.5" cy="192.4" r="1.25"/>
</g>
<text x="-0.20" y="241.80" font-size="18" text-anchor="start" fill="#000" >D</text>
<rect x="39.5" y="247.3" width="140" height="156.7" fill="none" stroke="#c8c8c8" stroke-width="0.9"/>
<line x1="68.36" y1="404" x2="68.36" y2="405.8" stroke="#999" stroke-width="0.8"/>
<text x="68.36" y="413.80" font-size="9" text-anchor="middle" fill="#111" >&#8722;3</text>
<line x1="102.35" y1="404" x2="102.35" y2="405.8" stroke="#999" stroke-width="0.8"/>
<text x="102.35" y="413.80" font-size="9" text-anchor="middle" fill="#111" >0</text>
<line x1="136.34" y1="404" x2="136.34" y2="405.8" stroke="#999" stroke-width="0.8"/>
<text x="136.34" y="413.80" font-size="9" text-anchor="middle" fill="#111" >3</text>
<line x1="170.33" y1="404" x2="170.33" y2="405.8" stroke="#999" stroke-width="0.8"/>
<text x="170.33" y="413.80" font-size="9" text-anchor="middle" fill="#111" >6</text>
<line x1="37.6" y1="261.70" x2="39.5" y2="261.70" stroke="#999" stroke-width="0.8"/>
<text x="37.30" y="264.90" font-size="9" text-anchor="end" fill="#111" >4</text>
<line x1="37.6" y1="298.30" x2="39.5" y2="298.30" stroke="#999" stroke-width="0.8"/>
<text x="37.30" y="301.50" font-size="9" text-anchor="end" fill="#111" >2</text>
<line x1="37.6" y1="334.90" x2="39.5" y2="334.90" stroke="#999" stroke-width="0.8"/>
<text x="37.30" y="338.10" font-size="9" text-anchor="end" fill="#111" >0</text>
<line x1="37.6" y1="371.50" x2="39.5" y2="371.50" stroke="#999" stroke-width="0.8"/>
<text x="37.30" y="374.70" font-size="9" text-anchor="end" fill="#111" >&#8722;2</text>
<text x="112.00" y="422.30" font-size="9.3" text-anchor="middle" fill="#111" >PC1 (58.77%)</text>
<text x="27.40" y="315.20" font-size="9.3" text-anchor="middle" fill="#111" transform="rotate(-90 27.40 315.20)" >PC2 (20.42%)</text>
<g>
<circle cx="105.7" cy="332.1" r="1.3" fill="#e8141a"/>
<circle cx="93.5" cy="307.2" r="1.3" fill="#1f68ad"/>
<circle cx="113.0" cy="314.1" r="1.3" fill="#e8141a"/>
<circle cx="100.0" cy="336.7" r="1.3" fill="#1f68ad"/>
<circle cx="111.0" cy="324.4" r="1.3" fill="#e8141a"/>
<circle cx="98.9" cy="326.9" r="1.3" fill="#1f68ad"/>
<circle cx="95.8" cy="362.2" r="1.3" fill="#1f68ad"/>
<circle cx="84.2" cy="339.4" r="1.3" fill="#1f68ad"/>
<circle cx="82.5" cy="343.1" r="1.3" fill="#1f68ad"/>
<circle cx="81.6" cy="327.6" r="1.3" fill="#1f68ad"/>
<circle cx="99.2" cy="343.9" r="1.3" fill="#1f68ad"/>
<circle cx="91.5" cy="360.4" r="1.3" fill="#1f68ad"/>
<circle cx="100.8" cy="336.6" r="1.3" fill="#1f68ad"/>
<circle cx="135.9" cy="325.4" r="1.3" fill="#e8141a"/>
<circle cx="129.2" cy="288.8" r="1.3" fill="#e8141a"/>
<circle cx="93.0" cy="336.4" r="1.3" fill="#1f68ad"/>
<circle cx="101.5" cy="348.9" r="1.3" fill="#1f68ad"/>
<circle cx="135.3" cy="322.5" r="1.3" fill="#e8141a"/>
<circle cx="120.9" cy="313.3" r="1.3" fill="#e8141a"/>
<circle cx="111.6" cy="317.5" r="1.3" fill="#e8141a"/>
<circle cx="75.3" cy="352.5" r="1.3" fill="#1f68ad"/>
<circle cx="92.1" cy="343.0" r="1.3" fill="#1f68ad"/>
<circle cx="111.5" cy="341.2" r="1.3" fill="#e8141a"/>
<circle cx="123.8" cy="356.8" r="1.3" fill="#e8141a"/>
<circle cx="103.3" cy="329.1" r="1.3" fill="#1f68ad"/>
<circle cx="74.1" cy="344.7" r="1.3" fill="#1f68ad"/>
<circle cx="89.9" cy="372.8" r="1.3" fill="#1f68ad"/>
<circle cx="147.9" cy="354.3" r="1.3" fill="#e8141a"/>
<circle cx="111.0" cy="332.2" r="1.3" fill="#e8141a"/>
<circle cx="113.6" cy="320.2" r="1.3" fill="#e8141a"/>
<circle cx="100.6" cy="321.3" r="1.3" fill="#1f68ad"/>
<circle cx="102.7" cy="345.0" r="1.3" fill="#1f68ad"/>
<circle cx="114.5" cy="340.9" r="1.3" fill="#e8141a"/>
<circle cx="113.4" cy="307.4" r="1.3" fill="#e8141a"/>
<circle cx="114.8" cy="319.7" r="1.3" fill="#e8141a"/>
<circle cx="85.4" cy="338.0" r="1.3" fill="#1f68ad"/>
<circle cx="115.0" cy="324.8" r="1.3" fill="#e8141a"/>
<circle cx="98.3" cy="335.9" r="1.3" fill="#1f68ad"/>
<circle cx="100.5" cy="322.6" r="1.3" fill="#1f68ad"/>
<circle cx="98.3" cy="322.6" r="1.3" fill="#1f68ad"/>
<circle cx="86.9" cy="321.8" r="1.3" fill="#1f68ad"/>
<circle cx="75.7" cy="324.0" r="1.3" fill="#1f68ad"/>
<circle cx="78.2" cy="348.1" r="1.3" fill="#1f68ad"/>
<circle cx="84.9" cy="338.6" r="1.3" fill="#1f68ad"/>
<circle cx="81.6" cy="327.7" r="1.3" fill="#1f68ad"/>
<circle cx="93.3" cy="354.4" r="1.3" fill="#1f68ad"/>
<circle cx="94.7" cy="297.0" r="1.3" fill="#1f68ad"/>
<circle cx="127.8" cy="308.1" r="1.3" fill="#e8141a"/>
<circle cx="110.7" cy="307.2" r="1.3" fill="#e8141a"/>
<circle cx="102.5" cy="315.3" r="1.3" fill="#1f68ad"/>
<circle cx="118.6" cy="334.3" r="1.3" fill="#e8141a"/>
<circle cx="98.7" cy="367.9" r="1.3" fill="#1f68ad"/>
<circle cx="94.5" cy="319.9" r="1.3" fill="#1f68ad"/>
<circle cx="103.5" cy="330.6" r="1.3" fill="#1f68ad"/>
<circle cx="67.4" cy="353.7" r="1.3" fill="#1f68ad"/>
<circle cx="106.0" cy="339.7" r="1.3" fill="#e8141a"/>
<circle cx="103.3" cy="300.9" r="1.3" fill="#1f68ad"/>
<circle cx="80.8" cy="317.9" r="1.3" fill="#1f68ad"/>
<circle cx="96.1" cy="332.2" r="1.3" fill="#1f68ad"/>
<circle cx="127.3" cy="335.4" r="1.3" fill="#e8141a"/>
<circle cx="99.8" cy="305.0" r="1.3" fill="#1f68ad"/>
<circle cx="85.9" cy="307.2" r="1.3" fill="#1f68ad"/>
<circle cx="96.5" cy="319.9" r="1.3" fill="#1f68ad"/>
<circle cx="84.7" cy="359.4" r="1.3" fill="#1f68ad"/>
<circle cx="140.3" cy="333.0" r="1.3" fill="#e8141a"/>
<circle cx="60.3" cy="349.8" r="1.3" fill="#1f68ad"/>
<circle cx="87.2" cy="348.5" r="1.3" fill="#1f68ad"/>
<circle cx="113.1" cy="326.3" r="1.3" fill="#e8141a"/>
<circle cx="77.2" cy="352.5" r="1.3" fill="#1f68ad"/>
<circle cx="131.0" cy="339.4" r="1.3" fill="#e8141a"/>
<circle cx="111.2" cy="320.8" r="1.3" fill="#e8141a"/>
<circle cx="103.6" cy="353.1" r="1.3" fill="#1f68ad"/>
<circle cx="99.2" cy="348.3" r="1.3" fill="#1f68ad"/>
<circle cx="83.3" cy="344.4" r="1.3" fill="#1f68ad"/>
<circle cx="107.9" cy="324.1" r="1.3" fill="#e8141a"/>
<circle cx="108.7" cy="306.6" r="1.3" fill="#e8141a"/>
<circle cx="92.1" cy="340.9" r="1.3" fill="#1f68ad"/>
<circle cx="108.5" cy="323.0" r="1.3" fill="#e8141a"/>
<circle cx="104.3" cy="352.3" r="1.3" fill="#1f68ad"/>
<circle cx="106.1" cy="355.8" r="1.3" fill="#e8141a"/>
<circle cx="75.3" cy="350.1" r="1.3" fill="#1f68ad"/>
<circle cx="93.4" cy="344.8" r="1.3" fill="#1f68ad"/>
<circle cx="98.4" cy="325.7" r="1.3" fill="#1f68ad"/>
<circle cx="64.8" cy="343.2" r="1.3" fill="#1f68ad"/>
<circle cx="99.1" cy="363.6" r="1.3" fill="#1f68ad"/>
<circle cx="113.7" cy="333.3" r="1.3" fill="#e8141a"/>
<circle cx="107.9" cy="348.0" r="1.3" fill="#e8141a"/>
<circle cx="104.7" cy="332.2" r="1.3" fill="#e8141a"/>
<circle cx="83.4" cy="367.4" r="1.3" fill="#1f68ad"/>
<circle cx="105.4" cy="327.9" r="1.3" fill="#e8141a"/>
<circle cx="99.1" cy="305.0" r="1.3" fill="#1f68ad"/>
<circle cx="60.4" cy="348.6" r="1.3" fill="#1f68ad"/>
<circle cx="80.2" cy="356.6" r="1.3" fill="#1f68ad"/>
<circle cx="66.8" cy="322.1" r="1.3" fill="#1f68ad"/>
<circle cx="121.3" cy="307.9" r="1.3" fill="#e8141a"/>
<circle cx="129.4" cy="340.4" r="1.3" fill="#e8141a"/>
<circle cx="108.2" cy="253.9" r="1.3" fill="#e8141a"/>
<circle cx="91.7" cy="331.5" r="1.3" fill="#1f68ad"/>
<circle cx="76.9" cy="362.6" r="1.3" fill="#1f68ad"/>
<circle cx="113.8" cy="344.4" r="1.3" fill="#e8141a"/>
<circle cx="98.1" cy="345.3" r="1.3" fill="#1f68ad"/>
<circle cx="136.3" cy="323.3" r="1.3" fill="#e8141a"/>
<circle cx="119.1" cy="324.5" r="1.3" fill="#e8141a"/>
<circle cx="123.6" cy="332.2" r="1.3" fill="#e8141a"/>
<circle cx="77.8" cy="346.2" r="1.3" fill="#1f68ad"/>
<circle cx="98.7" cy="370.4" r="1.3" fill="#1f68ad"/>
<circle cx="90.9" cy="340.3" r="1.3" fill="#1f68ad"/>
<circle cx="117.1" cy="315.7" r="1.3" fill="#e8141a"/>
<circle cx="97.0" cy="334.7" r="1.3" fill="#1f68ad"/>
<circle cx="96.3" cy="331.7" r="1.3" fill="#1f68ad"/>
<circle cx="76.3" cy="338.2" r="1.3" fill="#1f68ad"/>
<circle cx="90.9" cy="327.4" r="1.3" fill="#1f68ad"/>
<circle cx="113.4" cy="350.3" r="1.3" fill="#e8141a"/>
<circle cx="111.1" cy="340.5" r="1.3" fill="#e8141a"/>
<circle cx="136.1" cy="342.3" r="1.3" fill="#e8141a"/>
<circle cx="100.5" cy="330.3" r="1.3" fill="#1f68ad"/>
<circle cx="97.7" cy="337.1" r="1.3" fill="#1f68ad"/>
<circle cx="98.0" cy="341.7" r="1.3" fill="#1f68ad"/>
<circle cx="102.2" cy="339.4" r="1.3" fill="#1f68ad"/>
<circle cx="110.3" cy="348.7" r="1.3" fill="#e8141a"/>
<circle cx="97.9" cy="336.4" r="1.3" fill="#1f68ad"/>
<circle cx="104.6" cy="334.9" r="1.3" fill="#e8141a"/>
<circle cx="101.8" cy="347.4" r="1.3" fill="#1f68ad"/>
<circle cx="114.5" cy="324.4" r="1.3" fill="#e8141a"/>
<circle cx="98.6" cy="336.2" r="1.3" fill="#1f68ad"/>
<circle cx="101.0" cy="355.4" r="1.3" fill="#1f68ad"/>
<circle cx="83.5" cy="322.0" r="1.3" fill="#1f68ad"/>
<circle cx="112.9" cy="313.1" r="1.3" fill="#e8141a"/>
<circle cx="99.1" cy="362.8" r="1.3" fill="#1f68ad"/>
<circle cx="114.5" cy="346.4" r="1.3" fill="#e8141a"/>
<circle cx="94.2" cy="337.1" r="1.3" fill="#1f68ad"/>
<circle cx="103.4" cy="329.9" r="1.3" fill="#1f68ad"/>
<circle cx="116.6" cy="322.5" r="1.3" fill="#e8141a"/>
<circle cx="103.9" cy="291.8" r="1.3" fill="#1f68ad"/>
<circle cx="95.2" cy="306.9" r="1.3" fill="#1f68ad"/>
<circle cx="117.0" cy="332.6" r="1.3" fill="#e8141a"/>
<circle cx="133.3" cy="340.7" r="1.3" fill="#e8141a"/>
<circle cx="90.5" cy="336.3" r="1.3" fill="#1f68ad"/>
<circle cx="96.5" cy="336.7" r="1.3" fill="#1f68ad"/>
<circle cx="99.6" cy="345.0" r="1.3" fill="#1f68ad"/>
<circle cx="110.2" cy="344.1" r="1.3" fill="#e8141a"/>
<circle cx="100.2" cy="371.8" r="1.3" fill="#1f68ad"/>
<circle cx="95.3" cy="347.1" r="1.3" fill="#1f68ad"/>
<circle cx="113.5" cy="336.8" r="1.3" fill="#e8141a"/>
<circle cx="86.5" cy="339.4" r="1.3" fill="#1f68ad"/>
<circle cx="131.2" cy="311.1" r="1.3" fill="#e8141a"/>
<circle cx="77.4" cy="302.8" r="1.3" fill="#1f68ad"/>
<circle cx="95.4" cy="336.9" r="1.3" fill="#1f68ad"/>
<circle cx="68.8" cy="337.8" r="1.3" fill="#1f68ad"/>
<circle cx="103.7" cy="335.5" r="1.3" fill="#e8141a"/>
<circle cx="102.2" cy="326.9" r="1.3" fill="#1f68ad"/>
<circle cx="115.5" cy="311.1" r="1.3" fill="#e8141a"/>
<circle cx="93.6" cy="355.9" r="1.3" fill="#1f68ad"/>
<circle cx="95.3" cy="323.5" r="1.3" fill="#1f68ad"/>
<circle cx="94.1" cy="366.0" r="1.3" fill="#1f68ad"/>
<circle cx="94.0" cy="327.1" r="1.3" fill="#1f68ad"/>
<circle cx="86.1" cy="333.4" r="1.3" fill="#1f68ad"/>
<circle cx="78.8" cy="317.1" r="1.3" fill="#1f68ad"/>
<circle cx="112.0" cy="335.1" r="1.3" fill="#e8141a"/>
<circle cx="81.2" cy="322.8" r="1.3" fill="#1f68ad"/>
<circle cx="152.4" cy="341.8" r="1.3" fill="#e8141a"/>
<circle cx="113.8" cy="308.5" r="1.3" fill="#e8141a"/>
<circle cx="92.1" cy="355.7" r="1.3" fill="#1f68ad"/>
<circle cx="102.8" cy="338.6" r="1.3" fill="#1f68ad"/>
<circle cx="118.4" cy="340.1" r="1.3" fill="#e8141a"/>
<circle cx="94.9" cy="349.7" r="1.3" fill="#1f68ad"/>
<circle cx="102.1" cy="330.3" r="1.3" fill="#1f68ad"/>
<circle cx="116.1" cy="327.3" r="1.3" fill="#e8141a"/>
<circle cx="92.1" cy="331.1" r="1.3" fill="#1f68ad"/>
<circle cx="110.6" cy="336.4" r="1.3" fill="#e8141a"/>
<circle cx="88.5" cy="322.2" r="1.3" fill="#1f68ad"/>
<circle cx="110.6" cy="335.5" r="1.3" fill="#e8141a"/>
<circle cx="91.5" cy="329.5" r="1.3" fill="#1f68ad"/>
<circle cx="97.8" cy="357.9" r="1.3" fill="#1f68ad"/>
<circle cx="98.6" cy="349.5" r="1.3" fill="#1f68ad"/>
<circle cx="97.7" cy="334.6" r="1.3" fill="#1f68ad"/>
<circle cx="58.0" cy="329.3" r="1.3" fill="#1f68ad"/>
<circle cx="125.1" cy="348.0" r="1.3" fill="#e8141a"/>
<circle cx="91.0" cy="310.6" r="1.3" fill="#1f68ad"/>
<circle cx="86.9" cy="353.5" r="1.3" fill="#1f68ad"/>
<circle cx="104.4" cy="338.5" r="1.3" fill="#e8141a"/>
<circle cx="73.9" cy="340.5" r="1.3" fill="#1f68ad"/>
<circle cx="109.2" cy="344.5" r="1.3" fill="#e8141a"/>
<circle cx="108.5" cy="322.9" r="1.3" fill="#e8141a"/>
<circle cx="63.5" cy="331.5" r="1.3" fill="#1f68ad"/>
<circle cx="89.1" cy="314.9" r="1.3" fill="#1f68ad"/>
<circle cx="102.9" cy="322.0" r="1.3" fill="#1f68ad"/>
<circle cx="136.3" cy="326.6" r="1.3" fill="#e8141a"/>
<circle cx="98.5" cy="346.8" r="1.3" fill="#1f68ad"/>
<circle cx="91.3" cy="342.9" r="1.3" fill="#1f68ad"/>
<circle cx="89.9" cy="344.5" r="1.3" fill="#1f68ad"/>
<circle cx="103.4" cy="333.7" r="1.3" fill="#1f68ad"/>
<circle cx="95.9" cy="334.1" r="1.3" fill="#1f68ad"/>
<circle cx="78.9" cy="335.7" r="1.3" fill="#1f68ad"/>
<circle cx="132.6" cy="344.4" r="1.3" fill="#e8141a"/>
<circle cx="81.4" cy="340.0" r="1.3" fill="#1f68ad"/>
<circle cx="100.8" cy="363.3" r="1.3" fill="#1f68ad"/>
<circle cx="91.2" cy="392.0" r="1.3" fill="#1f68ad"/>
<circle cx="62.9" cy="334.8" r="1.3" fill="#1f68ad"/>
<circle cx="86.2" cy="341.5" r="1.3" fill="#1f68ad"/>
<circle cx="112.7" cy="302.5" r="1.3" fill="#e8141a"/>
<circle cx="101.8" cy="333.6" r="1.3" fill="#1f68ad"/>
<circle cx="98.6" cy="312.2" r="1.3" fill="#1f68ad"/>
<circle cx="83.7" cy="350.8" r="1.3" fill="#1f68ad"/>
<circle cx="122.4" cy="326.8" r="1.3" fill="#e8141a"/>
<circle cx="115.5" cy="334.1" r="1.3" fill="#e8141a"/>
<circle cx="115.8" cy="348.0" r="1.3" fill="#e8141a"/>
<circle cx="89.2" cy="335.8" r="1.3" fill="#1f68ad"/>
<circle cx="121.6" cy="345.4" r="1.3" fill="#e8141a"/>
<circle cx="125.1" cy="285.9" r="1.3" fill="#e8141a"/>
<circle cx="85.9" cy="294.5" r="1.3" fill="#1f68ad"/>
<circle cx="109.8" cy="328.3" r="1.3" fill="#e8141a"/>
<circle cx="91.5" cy="372.3" r="1.3" fill="#1f68ad"/>
<circle cx="133.3" cy="297.2" r="1.3" fill="#e8141a"/>
<circle cx="92.3" cy="326.0" r="1.3" fill="#1f68ad"/>
<circle cx="153.9" cy="348.7" r="1.3" fill="#e8141a"/>
<circle cx="100.5" cy="327.8" r="1.3" fill="#1f68ad"/>
<circle cx="64.7" cy="329.5" r="1.3" fill="#1f68ad"/>
<circle cx="97.5" cy="377.6" r="1.3" fill="#1f68ad"/>
<circle cx="115.0" cy="321.9" r="1.3" fill="#e8141a"/>
<circle cx="111.5" cy="333.7" r="1.3" fill="#e8141a"/>
<circle cx="125.6" cy="325.4" r="1.3" fill="#e8141a"/>
<circle cx="112.7" cy="324.3" r="1.3" fill="#e8141a"/>
<circle cx="122.7" cy="320.9" r="1.3" fill="#e8141a"/>
<circle cx="111.3" cy="352.9" r="1.3" fill="#e8141a"/>
<circle cx="107.4" cy="319.4" r="1.3" fill="#e8141a"/>
<circle cx="88.2" cy="318.5" r="1.3" fill="#1f68ad"/>
<circle cx="128.6" cy="328.0" r="1.3" fill="#e8141a"/>
<circle cx="105.5" cy="334.7" r="1.3" fill="#e8141a"/>
<circle cx="101.6" cy="331.9" r="1.3" fill="#1f68ad"/>
<circle cx="134.7" cy="283.3" r="1.3" fill="#e8141a"/>
<circle cx="118.8" cy="297.4" r="1.3" fill="#e8141a"/>
<circle cx="110.0" cy="347.6" r="1.3" fill="#e8141a"/>
<circle cx="111.6" cy="328.5" r="1.3" fill="#e8141a"/>
<circle cx="101.5" cy="353.1" r="1.3" fill="#1f68ad"/>
<circle cx="109.5" cy="314.3" r="1.3" fill="#e8141a"/>
<circle cx="102.1" cy="337.3" r="1.3" fill="#1f68ad"/>
<circle cx="98.9" cy="369.5" r="1.3" fill="#1f68ad"/>
<circle cx="94.8" cy="321.4" r="1.3" fill="#1f68ad"/>
<circle cx="137.2" cy="334.1" r="1.3" fill="#e8141a"/>
<circle cx="67.3" cy="351.2" r="1.3" fill="#1f68ad"/>
<circle cx="100.3" cy="332.6" r="1.3" fill="#1f68ad"/>
<circle cx="98.8" cy="337.4" r="1.3" fill="#1f68ad"/>
<circle cx="81.8" cy="299.5" r="1.3" fill="#1f68ad"/>
<circle cx="115.3" cy="304.8" r="1.3" fill="#e8141a"/>
<circle cx="87.8" cy="337.7" r="1.3" fill="#1f68ad"/>
<circle cx="111.9" cy="335.9" r="1.3" fill="#e8141a"/>
<circle cx="70.0" cy="333.2" r="1.3" fill="#1f68ad"/>
<circle cx="82.1" cy="292.5" r="1.3" fill="#1f68ad"/>
<circle cx="104.7" cy="340.0" r="1.3" fill="#e8141a"/>
<circle cx="106.3" cy="347.0" r="1.3" fill="#e8141a"/>
<circle cx="91.4" cy="344.8" r="1.3" fill="#1f68ad"/>
<circle cx="132.0" cy="344.0" r="1.3" fill="#e8141a"/>
<circle cx="86.1" cy="320.9" r="1.3" fill="#1f68ad"/>
<circle cx="128.6" cy="338.2" r="1.3" fill="#e8141a"/>
<circle cx="117.7" cy="340.4" r="1.3" fill="#e8141a"/>
<circle cx="84.0" cy="343.6" r="1.3" fill="#1f68ad"/>
<circle cx="115.6" cy="328.6" r="1.3" fill="#e8141a"/>
<circle cx="102.5" cy="355.9" r="1.3" fill="#1f68ad"/>
<circle cx="95.7" cy="314.4" r="1.3" fill="#1f68ad"/>
<circle cx="94.7" cy="329.3" r="1.3" fill="#1f68ad"/>
<circle cx="92.3" cy="327.3" r="1.3" fill="#1f68ad"/>
<circle cx="88.3" cy="356.5" r="1.3" fill="#1f68ad"/>
<circle cx="102.7" cy="328.1" r="1.3" fill="#1f68ad"/>
<circle cx="103.5" cy="326.2" r="1.3" fill="#1f68ad"/>
<circle cx="101.4" cy="342.9" r="1.3" fill="#1f68ad"/>
<circle cx="98.2" cy="333.1" r="1.3" fill="#1f68ad"/>
<circle cx="93.4" cy="311.9" r="1.3" fill="#1f68ad"/>
<circle cx="106.6" cy="302.1" r="1.3" fill="#e8141a"/>
<circle cx="96.8" cy="321.1" r="1.3" fill="#1f68ad"/>
<circle cx="104.1" cy="353.5" r="1.3" fill="#e8141a"/>
<circle cx="108.1" cy="334.5" r="1.3" fill="#e8141a"/>
<circle cx="110.5" cy="342.1" r="1.3" fill="#e8141a"/>
<circle cx="110.7" cy="340.5" r="1.3" fill="#e8141a"/>
<circle cx="90.6" cy="323.8" r="1.3" fill="#1f68ad"/>
<circle cx="110.8" cy="314.2" r="1.3" fill="#e8141a"/>
<circle cx="87.6" cy="302.5" r="1.3" fill="#1f68ad"/>
<circle cx="101.6" cy="330.9" r="1.3" fill="#1f68ad"/>
<circle cx="112.1" cy="328.0" r="1.3" fill="#e8141a"/>
<circle cx="91.2" cy="331.1" r="1.3" fill="#1f68ad"/>
<circle cx="113.3" cy="355.9" r="1.3" fill="#e8141a"/>
<circle cx="101.5" cy="335.3" r="1.3" fill="#1f68ad"/>
<circle cx="103.1" cy="356.6" r="1.3" fill="#1f68ad"/>
<circle cx="106.7" cy="343.4" r="1.3" fill="#e8141a"/>
<circle cx="88.7" cy="346.3" r="1.3" fill="#1f68ad"/>
<circle cx="78.7" cy="348.3" r="1.3" fill="#1f68ad"/>
<circle cx="94.1" cy="359.2" r="1.3" fill="#1f68ad"/>
<circle cx="127.7" cy="332.0" r="1.3" fill="#e8141a"/>
<circle cx="102.9" cy="321.6" r="1.3" fill="#1f68ad"/>
<circle cx="102.9" cy="347.8" r="1.3" fill="#1f68ad"/>
<circle cx="85.9" cy="374.6" r="1.3" fill="#1f68ad"/>
<circle cx="110.5" cy="328.5" r="1.3" fill="#e8141a"/>
<circle cx="93.7" cy="331.5" r="1.3" fill="#1f68ad"/>
<circle cx="112.3" cy="307.9" r="1.3" fill="#e8141a"/>
<circle cx="68.1" cy="346.8" r="1.3" fill="#1f68ad"/>
<circle cx="108.6" cy="354.0" r="1.3" fill="#e8141a"/>
<circle cx="97.0" cy="338.4" r="1.3" fill="#1f68ad"/>
<circle cx="92.3" cy="331.8" r="1.3" fill="#1f68ad"/>
<circle cx="110.6" cy="312.5" r="1.3" fill="#e8141a"/>
<circle cx="91.4" cy="292.7" r="1.3" fill="#1f68ad"/>
<circle cx="92.4" cy="359.0" r="1.3" fill="#1f68ad"/>
<circle cx="128.1" cy="323.7" r="1.3" fill="#e8141a"/>
<circle cx="101.1" cy="336.3" r="1.3" fill="#1f68ad"/>
<circle cx="90.2" cy="335.1" r="1.3" fill="#1f68ad"/>
<circle cx="70.9" cy="343.3" r="1.3" fill="#1f68ad"/>
<circle cx="100.0" cy="298.4" r="1.3" fill="#1f68ad"/>
<circle cx="109.4" cy="321.5" r="1.3" fill="#e8141a"/>
<circle cx="71.2" cy="314.8" r="1.3" fill="#1f68ad"/>
<circle cx="73.8" cy="332.2" r="1.3" fill="#1f68ad"/>
<circle cx="80.5" cy="328.8" r="1.3" fill="#1f68ad"/>
<circle cx="75.7" cy="348.9" r="1.3" fill="#1f68ad"/>
<circle cx="80.9" cy="325.7" r="1.3" fill="#1f68ad"/>
<circle cx="110.1" cy="316.1" r="1.3" fill="#e8141a"/>
<circle cx="108.1" cy="332.6" r="1.3" fill="#e8141a"/>
<circle cx="96.1" cy="336.7" r="1.3" fill="#1f68ad"/>
<circle cx="86.4" cy="318.9" r="1.3" fill="#1f68ad"/>
<circle cx="120.4" cy="348.2" r="1.3" fill="#e8141a"/>
<circle cx="70.9" cy="366.8" r="1.3" fill="#1f68ad"/>
<circle cx="117.6" cy="316.8" r="1.3" fill="#e8141a"/>
<circle cx="114.8" cy="327.5" r="1.3" fill="#e8141a"/>
<circle cx="92.0" cy="380.7" r="1.3" fill="#1f68ad"/>
<circle cx="113.5" cy="347.5" r="1.3" fill="#e8141a"/>
<circle cx="86.7" cy="338.8" r="1.3" fill="#1f68ad"/>
<circle cx="108.2" cy="336.9" r="1.3" fill="#e8141a"/>
<circle cx="80.3" cy="338.0" r="1.3" fill="#1f68ad"/>
<circle cx="124.5" cy="327.7" r="1.3" fill="#e8141a"/>
<circle cx="96.8" cy="346.3" r="1.3" fill="#1f68ad"/>
<circle cx="92.1" cy="344.1" r="1.3" fill="#1f68ad"/>
<circle cx="125.6" cy="328.5" r="1.3" fill="#e8141a"/>
<circle cx="64.1" cy="318.1" r="1.3" fill="#1f68ad"/>
<circle cx="105.4" cy="343.0" r="1.3" fill="#e8141a"/>
<circle cx="106.2" cy="325.5" r="1.3" fill="#e8141a"/>
<circle cx="98.7" cy="355.7" r="1.3" fill="#1f68ad"/>
<circle cx="82.3" cy="325.8" r="1.3" fill="#1f68ad"/>
<circle cx="101.4" cy="333.6" r="1.3" fill="#1f68ad"/>
<circle cx="117.8" cy="341.3" r="1.3" fill="#e8141a"/>
<circle cx="80.3" cy="347.2" r="1.3" fill="#1f68ad"/>
<circle cx="94.9" cy="311.9" r="1.3" fill="#1f68ad"/>
<circle cx="100.5" cy="344.0" r="1.3" fill="#1f68ad"/>
<circle cx="90.3" cy="356.2" r="1.3" fill="#1f68ad"/>
<circle cx="128.7" cy="337.9" r="1.3" fill="#e8141a"/>
<circle cx="97.5" cy="316.3" r="1.3" fill="#1f68ad"/>
<circle cx="88.0" cy="304.5" r="1.3" fill="#1f68ad"/>
<circle cx="95.7" cy="345.9" r="1.3" fill="#1f68ad"/>
<circle cx="106.4" cy="346.2" r="1.3" fill="#e8141a"/>
<circle cx="103.3" cy="350.1" r="1.3" fill="#1f68ad"/>
<circle cx="128.1" cy="343.9" r="1.3" fill="#e8141a"/>
<circle cx="96.7" cy="335.5" r="1.3" fill="#1f68ad"/>
<circle cx="73.9" cy="308.9" r="1.3" fill="#1f68ad"/>
<circle cx="98.4" cy="397.2" r="1.3" fill="#1f68ad"/>
<circle cx="92.6" cy="330.7" r="1.3" fill="#1f68ad"/>
<circle cx="102.2" cy="342.8" r="1.3" fill="#1f68ad"/>
<circle cx="60.3" cy="352.8" r="1.3" fill="#1f68ad"/>
<circle cx="129.0" cy="351.6" r="1.3" fill="#e8141a"/>
<circle cx="99.9" cy="345.7" r="1.3" fill="#1f68ad"/>
<circle cx="71.5" cy="317.2" r="1.3" fill="#1f68ad"/>
<circle cx="170.6" cy="339.8" r="1.3" fill="#e8141a"/>
<circle cx="102.3" cy="313.3" r="1.3" fill="#1f68ad"/>
<circle cx="97.2" cy="337.4" r="1.3" fill="#1f68ad"/>
<circle cx="121.8" cy="304.8" r="1.3" fill="#e8141a"/>
<circle cx="81.2" cy="345.3" r="1.3" fill="#1f68ad"/>
<circle cx="120.9" cy="337.6" r="1.3" fill="#e8141a"/>
<circle cx="104.8" cy="314.3" r="1.3" fill="#e8141a"/>
<circle cx="91.8" cy="305.5" r="1.3" fill="#1f68ad"/>
<circle cx="92.2" cy="338.4" r="1.3" fill="#1f68ad"/>
<circle cx="89.4" cy="334.9" r="1.3" fill="#1f68ad"/>
<circle cx="93.4" cy="344.8" r="1.3" fill="#1f68ad"/>
<circle cx="90.3" cy="340.3" r="1.3" fill="#1f68ad"/>
<circle cx="84.0" cy="316.8" r="1.3" fill="#1f68ad"/>
<circle cx="90.6" cy="354.3" r="1.3" fill="#1f68ad"/>
<circle cx="103.1" cy="346.4" r="1.3" fill="#1f68ad"/>
<circle cx="71.9" cy="347.5" r="1.3" fill="#1f68ad"/>
<circle cx="106.3" cy="323.1" r="1.3" fill="#e8141a"/>
<circle cx="71.2" cy="299.8" r="1.3" fill="#1f68ad"/>
<circle cx="86.0" cy="325.2" r="1.3" fill="#1f68ad"/>
<circle cx="91.2" cy="334.8" r="1.3" fill="#1f68ad"/>
<circle cx="123.8" cy="320.8" r="1.3" fill="#e8141a"/>
<circle cx="86.2" cy="329.2" r="1.3" fill="#1f68ad"/>
<circle cx="87.6" cy="338.5" r="1.3" fill="#1f68ad"/>
<circle cx="91.8" cy="334.5" r="1.3" fill="#1f68ad"/>
<circle cx="96.4" cy="327.1" r="1.3" fill="#1f68ad"/>
<circle cx="97.5" cy="356.7" r="1.3" fill="#1f68ad"/>
<circle cx="121.9" cy="318.7" r="1.3" fill="#e8141a"/>
<circle cx="112.9" cy="336.2" r="1.3" fill="#e8141a"/>
<circle cx="75.3" cy="321.3" r="1.3" fill="#1f68ad"/>
<circle cx="99.1" cy="358.0" r="1.3" fill="#1f68ad"/>
<circle cx="124.6" cy="346.4" r="1.3" fill="#e8141a"/>
<circle cx="120.1" cy="343.9" r="1.3" fill="#e8141a"/>
<circle cx="102.9" cy="346.6" r="1.3" fill="#1f68ad"/>
<circle cx="87.9" cy="330.9" r="1.3" fill="#1f68ad"/>
<circle cx="92.7" cy="368.9" r="1.3" fill="#1f68ad"/>
<circle cx="87.2" cy="326.8" r="1.3" fill="#1f68ad"/>
<circle cx="99.8" cy="338.6" r="1.3" fill="#1f68ad"/>
<circle cx="91.3" cy="324.6" r="1.3" fill="#1f68ad"/>
<circle cx="79.4" cy="369.0" r="1.3" fill="#1f68ad"/>
<circle cx="101.8" cy="341.2" r="1.3" fill="#1f68ad"/>
<circle cx="110.9" cy="324.9" r="1.3" fill="#e8141a"/>
<circle cx="109.9" cy="336.3" r="1.3" fill="#e8141a"/>
<circle cx="126.6" cy="327.5" r="1.3" fill="#e8141a"/>
<circle cx="132.3" cy="349.1" r="1.3" fill="#e8141a"/>
<circle cx="121.5" cy="280.1" r="1.3" fill="#e8141a"/>
<circle cx="120.6" cy="337.3" r="1.3" fill="#e8141a"/>
<circle cx="88.1" cy="308.8" r="1.3" fill="#1f68ad"/>
<circle cx="115.3" cy="327.3" r="1.3" fill="#e8141a"/>
<circle cx="146.8" cy="302.5" r="1.3" fill="#e8141a"/>
<circle cx="93.8" cy="334.3" r="1.3" fill="#1f68ad"/>
<circle cx="98.4" cy="300.6" r="1.3" fill="#1f68ad"/>
<circle cx="96.2" cy="334.6" r="1.3" fill="#1f68ad"/>
<circle cx="144.7" cy="338.9" r="1.3" fill="#e8141a"/>
<circle cx="103.4" cy="330.1" r="1.3" fill="#1f68ad"/>
<circle cx="95.8" cy="333.3" r="1.3" fill="#1f68ad"/>
<circle cx="114.3" cy="378.9" r="1.3" fill="#e8141a"/>
<circle cx="87.4" cy="333.4" r="1.3" fill="#1f68ad"/>
<circle cx="117.8" cy="314.4" r="1.3" fill="#e8141a"/>
<circle cx="89.6" cy="335.3" r="1.3" fill="#1f68ad"/>
<circle cx="102.8" cy="326.0" r="1.3" fill="#1f68ad"/>
<circle cx="104.8" cy="341.5" r="1.3" fill="#e8141a"/>
<circle cx="120.8" cy="339.2" r="1.3" fill="#e8141a"/>
<circle cx="86.3" cy="335.8" r="1.3" fill="#1f68ad"/>
<circle cx="93.2" cy="346.4" r="1.3" fill="#1f68ad"/>
<circle cx="129.6" cy="351.4" r="1.3" fill="#e8141a"/>
<circle cx="101.5" cy="345.7" r="1.3" fill="#1f68ad"/>
<circle cx="96.4" cy="354.0" r="1.3" fill="#1f68ad"/>
<circle cx="106.8" cy="342.2" r="1.3" fill="#e8141a"/>
<circle cx="114.5" cy="348.6" r="1.3" fill="#e8141a"/>
<circle cx="123.3" cy="327.1" r="1.3" fill="#e8141a"/>
<circle cx="116.5" cy="336.5" r="1.3" fill="#e8141a"/>
<circle cx="68.5" cy="340.0" r="1.3" fill="#1f68ad"/>
<circle cx="92.7" cy="315.5" r="1.3" fill="#1f68ad"/>
<circle cx="107.7" cy="321.4" r="1.3" fill="#e8141a"/>
<circle cx="80.4" cy="322.7" r="1.3" fill="#1f68ad"/>
<circle cx="119.3" cy="372.8" r="1.3" fill="#e8141a"/>
<circle cx="100.2" cy="337.6" r="1.3" fill="#1f68ad"/>
<circle cx="88.5" cy="347.8" r="1.3" fill="#1f68ad"/>
<circle cx="94.1" cy="317.2" r="1.3" fill="#1f68ad"/>
<circle cx="102.3" cy="347.4" r="1.3" fill="#1f68ad"/>
<circle cx="113.2" cy="320.3" r="1.3" fill="#e8141a"/>
<circle cx="93.6" cy="348.3" r="1.3" fill="#1f68ad"/>
<circle cx="97.6" cy="344.5" r="1.3" fill="#1f68ad"/>
<circle cx="98.8" cy="359.2" r="1.3" fill="#1f68ad"/>
<circle cx="104.9" cy="325.6" r="1.3" fill="#e8141a"/>
<circle cx="84.4" cy="336.2" r="1.3" fill="#1f68ad"/>
<circle cx="99.3" cy="330.1" r="1.3" fill="#1f68ad"/>
<circle cx="112.5" cy="345.5" r="1.3" fill="#e8141a"/>
<circle cx="83.5" cy="298.9" r="1.3" fill="#1f68ad"/>
<circle cx="114.2" cy="324.3" r="1.3" fill="#e8141a"/>
<circle cx="102.6" cy="336.4" r="1.3" fill="#1f68ad"/>
<circle cx="97.7" cy="306.5" r="1.3" fill="#1f68ad"/>
<circle cx="83.5" cy="335.7" r="1.3" fill="#1f68ad"/>
<circle cx="115.4" cy="331.9" r="1.3" fill="#e8141a"/>
<circle cx="128.9" cy="341.1" r="1.3" fill="#e8141a"/>
<circle cx="107.7" cy="326.6" r="1.3" fill="#e8141a"/>
<circle cx="103.0" cy="361.8" r="1.3" fill="#1f68ad"/>
<circle cx="103.8" cy="331.4" r="1.3" fill="#1f68ad"/>
<circle cx="97.6" cy="357.8" r="1.3" fill="#1f68ad"/>
<circle cx="103.5" cy="343.4" r="1.3" fill="#1f68ad"/>
<circle cx="172.9" cy="288.9" r="1.3" fill="#e8141a"/>
<circle cx="100.6" cy="349.2" r="1.3" fill="#1f68ad"/>
<circle cx="95.4" cy="326.5" r="1.3" fill="#1f68ad"/>
<circle cx="98.4" cy="334.1" r="1.3" fill="#1f68ad"/>
<circle cx="114.4" cy="349.6" r="1.3" fill="#e8141a"/>
<circle cx="92.5" cy="333.4" r="1.3" fill="#1f68ad"/>
<circle cx="102.9" cy="337.7" r="1.3" fill="#1f68ad"/>
<circle cx="109.2" cy="319.4" r="1.3" fill="#e8141a"/>
<circle cx="104.4" cy="340.4" r="1.3" fill="#e8141a"/>
<circle cx="137.1" cy="342.5" r="1.3" fill="#e8141a"/>
<circle cx="92.1" cy="343.0" r="1.3" fill="#1f68ad"/>
<circle cx="93.5" cy="388.5" r="1.3" fill="#1f68ad"/>
<circle cx="98.4" cy="337.4" r="1.3" fill="#1f68ad"/>
<circle cx="112.2" cy="368.8" r="1.3" fill="#e8141a"/>
<circle cx="116.3" cy="329.7" r="1.3" fill="#e8141a"/>
<circle cx="97.9" cy="318.1" r="1.3" fill="#1f68ad"/>
<circle cx="98.5" cy="351.1" r="1.3" fill="#1f68ad"/>
<circle cx="65.8" cy="326.5" r="1.3" fill="#1f68ad"/>
<circle cx="120.7" cy="319.9" r="1.3" fill="#e8141a"/>
<circle cx="72.8" cy="340.9" r="1.3" fill="#1f68ad"/>
<circle cx="90.8" cy="306.8" r="1.3" fill="#1f68ad"/>
<circle cx="118.7" cy="351.5" r="1.3" fill="#e8141a"/>
<circle cx="96.3" cy="367.9" r="1.3" fill="#1f68ad"/>
<circle cx="100.6" cy="357.1" r="1.3" fill="#1f68ad"/>
<circle cx="67.6" cy="328.9" r="1.3" fill="#1f68ad"/>
<circle cx="83.4" cy="328.7" r="1.3" fill="#1f68ad"/>
<circle cx="90.6" cy="297.0" r="1.3" fill="#1f68ad"/>
<circle cx="102.7" cy="330.0" r="1.3" fill="#1f68ad"/>
<circle cx="75.7" cy="372.6" r="1.3" fill="#1f68ad"/>
<circle cx="80.2" cy="343.4" r="1.3" fill="#1f68ad"/>
<circle cx="93.5" cy="330.9" r="1.3" fill="#1f68ad"/>
<circle cx="98.4" cy="316.1" r="1.3" fill="#1f68ad"/>
<circle cx="62.5" cy="316.0" r="1.3" fill="#1f68ad"/>
<circle cx="99.8" cy="332.9" r="1.3" fill="#1f68ad"/>
<circle cx="89.7" cy="368.6" r="1.3" fill="#1f68ad"/>
<circle cx="84.7" cy="339.4" r="1.3" fill="#1f68ad"/>
<circle cx="98.9" cy="332.5" r="1.3" fill="#1f68ad"/>
<circle cx="83.2" cy="321.0" r="1.3" fill="#1f68ad"/>
<circle cx="114.2" cy="322.7" r="1.3" fill="#e8141a"/>
<circle cx="95.1" cy="343.3" r="1.3" fill="#1f68ad"/>
<circle cx="112.2" cy="355.4" r="1.3" fill="#e8141a"/>
<circle cx="117.4" cy="315.2" r="1.3" fill="#e8141a"/>
<circle cx="94.5" cy="346.5" r="1.3" fill="#1f68ad"/>
<circle cx="131.7" cy="302.4" r="1.3" fill="#e8141a"/>
<circle cx="106.0" cy="363.3" r="1.3" fill="#e8141a"/>
<circle cx="89.2" cy="343.2" r="1.3" fill="#1f68ad"/>
<circle cx="71.2" cy="319.5" r="1.3" fill="#1f68ad"/>
<circle cx="78.4" cy="316.7" r="1.3" fill="#1f68ad"/>
<circle cx="143.8" cy="326.8" r="1.3" fill="#e8141a"/>
<circle cx="94.1" cy="328.2" r="1.3" fill="#1f68ad"/>
<circle cx="82.2" cy="378.1" r="1.3" fill="#1f68ad"/>
<circle cx="92.2" cy="338.0" r="1.3" fill="#1f68ad"/>
<circle cx="110.8" cy="328.8" r="1.3" fill="#e8141a"/>
<circle cx="125.0" cy="341.8" r="1.3" fill="#e8141a"/>
<circle cx="109.9" cy="347.1" r="1.3" fill="#e8141a"/>
<circle cx="119.2" cy="335.2" r="1.3" fill="#e8141a"/>
<circle cx="65.4" cy="341.0" r="1.3" fill="#1f68ad"/>
<circle cx="122.4" cy="330.4" r="1.3" fill="#e8141a"/>
<circle cx="127.4" cy="345.3" r="1.3" fill="#e8141a"/>
<circle cx="59.2" cy="328.8" r="1.3" fill="#1f68ad"/>
<circle cx="51.4" cy="335.8" r="1.3" fill="#1f68ad"/>
<circle cx="82.0" cy="331.7" r="1.3" fill="#1f68ad"/>
<circle cx="91.6" cy="351.6" r="1.3" fill="#1f68ad"/>
<circle cx="114.6" cy="325.3" r="1.3" fill="#e8141a"/>
<circle cx="116.3" cy="366.8" r="1.3" fill="#e8141a"/>
<circle cx="99.1" cy="318.0" r="1.3" fill="#1f68ad"/>
<circle cx="97.0" cy="326.3" r="1.3" fill="#1f68ad"/>
<circle cx="105.4" cy="323.8" r="1.3" fill="#e8141a"/>
<circle cx="91.8" cy="326.5" r="1.3" fill="#1f68ad"/>
<circle cx="118.9" cy="325.1" r="1.3" fill="#e8141a"/>
<circle cx="120.4" cy="325.6" r="1.3" fill="#e8141a"/>
<circle cx="100.8" cy="328.1" r="1.3" fill="#1f68ad"/>
<circle cx="136.2" cy="331.9" r="1.3" fill="#e8141a"/>
<circle cx="100.4" cy="314.6" r="1.3" fill="#1f68ad"/>
<circle cx="69.8" cy="364.1" r="1.3" fill="#1f68ad"/>
<circle cx="122.6" cy="368.3" r="1.3" fill="#e8141a"/>
<circle cx="112.7" cy="308.4" r="1.3" fill="#e8141a"/>
<circle cx="128.9" cy="319.5" r="1.3" fill="#e8141a"/>
<circle cx="114.1" cy="300.5" r="1.3" fill="#e8141a"/>
<circle cx="120.1" cy="332.4" r="1.3" fill="#e8141a"/>
<circle cx="85.5" cy="324.9" r="1.3" fill="#1f68ad"/>
<circle cx="82.7" cy="335.6" r="1.3" fill="#1f68ad"/>
<circle cx="89.0" cy="321.1" r="1.3" fill="#1f68ad"/>
<circle cx="118.1" cy="370.9" r="1.3" fill="#e8141a"/>
<circle cx="148.7" cy="344.4" r="1.3" fill="#e8141a"/>
<circle cx="84.2" cy="327.2" r="1.3" fill="#1f68ad"/>
<circle cx="76.9" cy="333.8" r="1.3" fill="#1f68ad"/>
<circle cx="107.8" cy="346.6" r="1.3" fill="#e8141a"/>
<circle cx="102.1" cy="346.2" r="1.3" fill="#1f68ad"/>
<circle cx="94.0" cy="319.3" r="1.3" fill="#1f68ad"/>
<circle cx="102.9" cy="341.1" r="1.3" fill="#1f68ad"/>
<circle cx="100.3" cy="314.4" r="1.3" fill="#1f68ad"/>
<circle cx="115.6" cy="297.4" r="1.3" fill="#e8141a"/>
<circle cx="117.0" cy="316.2" r="1.3" fill="#e8141a"/>
<circle cx="100.8" cy="357.6" r="1.3" fill="#1f68ad"/>
<circle cx="132.4" cy="319.5" r="1.3" fill="#e8141a"/>
<circle cx="134.1" cy="330.1" r="1.3" fill="#e8141a"/>
<circle cx="78.7" cy="353.4" r="1.3" fill="#1f68ad"/>
<circle cx="104.2" cy="364.1" r="1.3" fill="#e8141a"/>
<circle cx="96.8" cy="343.2" r="1.3" fill="#1f68ad"/>
<circle cx="120.0" cy="338.6" r="1.3" fill="#e8141a"/>
<circle cx="96.3" cy="346.1" r="1.3" fill="#1f68ad"/>
<circle cx="93.5" cy="359.0" r="1.3" fill="#1f68ad"/>
<circle cx="99.8" cy="345.8" r="1.3" fill="#1f68ad"/>
<circle cx="77.7" cy="349.9" r="1.3" fill="#1f68ad"/>
<circle cx="108.9" cy="314.9" r="1.3" fill="#e8141a"/>
<circle cx="118.4" cy="343.8" r="1.3" fill="#e8141a"/>
<circle cx="127.9" cy="297.8" r="1.3" fill="#e8141a"/>
<circle cx="115.9" cy="349.0" r="1.3" fill="#e8141a"/>
<circle cx="116.0" cy="333.8" r="1.3" fill="#e8141a"/>
<circle cx="117.9" cy="343.4" r="1.3" fill="#e8141a"/>
<circle cx="107.4" cy="350.8" r="1.3" fill="#e8141a"/>
<circle cx="116.9" cy="315.5" r="1.3" fill="#e8141a"/>
<circle cx="101.1" cy="341.0" r="1.3" fill="#1f68ad"/>
<circle cx="110.8" cy="322.4" r="1.3" fill="#e8141a"/>
<circle cx="101.1" cy="338.4" r="1.3" fill="#1f68ad"/>
<circle cx="96.1" cy="309.8" r="1.3" fill="#1f68ad"/>
<circle cx="101.7" cy="341.1" r="1.3" fill="#1f68ad"/>
<circle cx="129.9" cy="339.9" r="1.3" fill="#e8141a"/>
<circle cx="95.3" cy="336.1" r="1.3" fill="#1f68ad"/>
<circle cx="87.0" cy="314.4" r="1.3" fill="#1f68ad"/>
<circle cx="104.8" cy="329.3" r="1.3" fill="#e8141a"/>
<circle cx="119.4" cy="303.6" r="1.3" fill="#e8141a"/>
<circle cx="135.2" cy="364.7" r="1.3" fill="#e8141a"/>
<circle cx="79.2" cy="328.3" r="1.3" fill="#1f68ad"/>
<circle cx="103.5" cy="358.8" r="1.3" fill="#1f68ad"/>
<circle cx="138.9" cy="355.1" r="1.3" fill="#e8141a"/>
<circle cx="85.0" cy="336.5" r="1.3" fill="#1f68ad"/>
<circle cx="101.2" cy="335.6" r="1.3" fill="#1f68ad"/>
<circle cx="120.6" cy="361.1" r="1.3" fill="#e8141a"/>
<circle cx="93.0" cy="394.5" r="1.3" fill="#1f68ad"/>
<circle cx="78.4" cy="312.2" r="1.3" fill="#1f68ad"/>
<circle cx="101.9" cy="340.4" r="1.3" fill="#1f68ad"/>
<circle cx="92.1" cy="302.8" r="1.3" fill="#1f68ad"/>
<circle cx="98.9" cy="352.0" r="1.3" fill="#1f68ad"/>
<circle cx="97.0" cy="366.8" r="1.3" fill="#1f68ad"/>
<circle cx="110.3" cy="334.9" r="1.3" fill="#e8141a"/>
<circle cx="73.7" cy="335.5" r="1.3" fill="#1f68ad"/>
<circle cx="106.6" cy="327.3" r="1.3" fill="#e8141a"/>
<circle cx="98.2" cy="365.7" r="1.3" fill="#1f68ad"/>
<circle cx="115.9" cy="330.7" r="1.3" fill="#e8141a"/>
<circle cx="75.1" cy="309.2" r="1.3" fill="#1f68ad"/>
<circle cx="116.5" cy="337.5" r="1.3" fill="#e8141a"/>
<circle cx="85.4" cy="321.7" r="1.3" fill="#1f68ad"/>
<circle cx="106.8" cy="330.2" r="1.3" fill="#e8141a"/>
<circle cx="102.1" cy="332.4" r="1.3" fill="#1f68ad"/>
<circle cx="120.9" cy="332.3" r="1.3" fill="#e8141a"/>
<circle cx="150.0" cy="319.8" r="1.3" fill="#e8141a"/>
<circle cx="91.9" cy="342.9" r="1.3" fill="#1f68ad"/>
<circle cx="90.2" cy="344.8" r="1.3" fill="#1f68ad"/>
<circle cx="78.3" cy="335.7" r="1.3" fill="#1f68ad"/>
<circle cx="92.3" cy="325.7" r="1.3" fill="#1f68ad"/>
<circle cx="91.5" cy="349.5" r="1.3" fill="#1f68ad"/>
<circle cx="75.0" cy="338.9" r="1.3" fill="#1f68ad"/>
<circle cx="97.6" cy="336.4" r="1.3" fill="#1f68ad"/>
<circle cx="64.1" cy="338.9" r="1.3" fill="#1f68ad"/>
<circle cx="100.5" cy="348.8" r="1.3" fill="#1f68ad"/>
<circle cx="103.1" cy="340.5" r="1.3" fill="#1f68ad"/>
<circle cx="85.4" cy="338.7" r="1.3" fill="#1f68ad"/>
<circle cx="123.9" cy="319.4" r="1.3" fill="#e8141a"/>
<circle cx="81.2" cy="340.3" r="1.3" fill="#1f68ad"/>
<circle cx="95.1" cy="328.6" r="1.3" fill="#1f68ad"/>
<circle cx="93.1" cy="320.1" r="1.3" fill="#1f68ad"/>
<circle cx="127.2" cy="346.8" r="1.3" fill="#e8141a"/>
<circle cx="127.1" cy="361.8" r="1.3" fill="#e8141a"/>
<circle cx="94.7" cy="340.2" r="1.3" fill="#1f68ad"/>
<circle cx="100.8" cy="341.8" r="1.3" fill="#1f68ad"/>
<circle cx="92.7" cy="323.1" r="1.3" fill="#1f68ad"/>
<circle cx="98.9" cy="339.6" r="1.3" fill="#1f68ad"/>
<circle cx="104.5" cy="345.8" r="1.3" fill="#e8141a"/>
<circle cx="109.0" cy="330.8" r="1.3" fill="#e8141a"/>
<circle cx="115.0" cy="330.4" r="1.3" fill="#e8141a"/>
<circle cx="101.9" cy="363.5" r="1.3" fill="#1f68ad"/>
<circle cx="83.5" cy="349.7" r="1.3" fill="#1f68ad"/>
<circle cx="138.2" cy="310.7" r="1.3" fill="#e8141a"/>
<circle cx="105.5" cy="338.6" r="1.3" fill="#e8141a"/>
<circle cx="116.2" cy="333.7" r="1.3" fill="#e8141a"/>
<circle cx="91.4" cy="331.4" r="1.3" fill="#1f68ad"/>
<circle cx="103.0" cy="327.1" r="1.3" fill="#1f68ad"/>
<circle cx="76.5" cy="319.2" r="1.3" fill="#1f68ad"/>
<circle cx="86.7" cy="316.5" r="1.3" fill="#1f68ad"/>
<circle cx="115.1" cy="367.9" r="1.3" fill="#e8141a"/>
<circle cx="105.3" cy="334.6" r="1.3" fill="#e8141a"/>
<circle cx="109.7" cy="338.5" r="1.3" fill="#e8141a"/>
<circle cx="91.2" cy="347.1" r="1.3" fill="#1f68ad"/>
<circle cx="89.6" cy="334.0" r="1.3" fill="#1f68ad"/>
<circle cx="82.5" cy="315.9" r="1.3" fill="#1f68ad"/>
<circle cx="119.9" cy="322.9" r="1.3" fill="#e8141a"/>
<circle cx="85.5" cy="347.4" r="1.3" fill="#1f68ad"/>
<circle cx="79.3" cy="340.2" r="1.3" fill="#1f68ad"/>
<circle cx="99.4" cy="334.0" r="1.3" fill="#1f68ad"/>
<circle cx="101.6" cy="331.1" r="1.3" fill="#1f68ad"/>
<circle cx="129.3" cy="334.4" r="1.3" fill="#e8141a"/>
<circle cx="74.8" cy="347.2" r="1.3" fill="#1f68ad"/>
<circle cx="103.0" cy="333.6" r="1.3" fill="#1f68ad"/>
<circle cx="148.5" cy="352.0" r="1.3" fill="#e8141a"/>
<circle cx="118.3" cy="342.0" r="1.3" fill="#e8141a"/>
<circle cx="97.3" cy="354.4" r="1.3" fill="#1f68ad"/>
<circle cx="142.2" cy="321.4" r="1.3" fill="#e8141a"/>
<circle cx="95.9" cy="350.9" r="1.3" fill="#1f68ad"/>
<circle cx="89.9" cy="348.2" r="1.3" fill="#1f68ad"/>
<circle cx="72.0" cy="294.8" r="1.3" fill="#1f68ad"/>
<circle cx="89.5" cy="340.2" r="1.3" fill="#1f68ad"/>
<circle cx="87.2" cy="327.8" r="1.3" fill="#1f68ad"/>
<circle cx="101.3" cy="321.1" r="1.3" fill="#1f68ad"/>
<circle cx="157.4" cy="336.2" r="1.3" fill="#e8141a"/>
<circle cx="60.8" cy="336.5" r="1.3" fill="#1f68ad"/>
<circle cx="98.2" cy="330.9" r="1.3" fill="#1f68ad"/>
<circle cx="90.0" cy="337.0" r="1.3" fill="#1f68ad"/>
<circle cx="88.5" cy="332.0" r="1.3" fill="#1f68ad"/>
<circle cx="96.0" cy="347.2" r="1.3" fill="#1f68ad"/>
<circle cx="103.9" cy="336.6" r="1.3" fill="#e8141a"/>
<circle cx="104.7" cy="319.6" r="1.3" fill="#e8141a"/>
<circle cx="152.4" cy="342.1" r="1.3" fill="#e8141a"/>
<circle cx="91.9" cy="363.7" r="1.3" fill="#1f68ad"/>
<circle cx="108.9" cy="320.3" r="1.3" fill="#e8141a"/>
<circle cx="92.8" cy="349.1" r="1.3" fill="#1f68ad"/>
<circle cx="100.1" cy="342.3" r="1.3" fill="#1f68ad"/>
<circle cx="79.5" cy="331.1" r="1.3" fill="#1f68ad"/>
<circle cx="93.7" cy="329.8" r="1.3" fill="#1f68ad"/>
<circle cx="76.3" cy="331.7" r="1.3" fill="#1f68ad"/>
<circle cx="113.3" cy="331.4" r="1.3" fill="#e8141a"/>
<circle cx="91.5" cy="300.9" r="1.3" fill="#1f68ad"/>
<circle cx="96.1" cy="323.5" r="1.3" fill="#1f68ad"/>
<circle cx="101.1" cy="343.3" r="1.3" fill="#1f68ad"/>
<circle cx="100.4" cy="314.9" r="1.3" fill="#1f68ad"/>
<circle cx="105.8" cy="329.0" r="1.3" fill="#e8141a"/>
<circle cx="144.4" cy="347.2" r="1.3" fill="#e8141a"/>
<circle cx="148.7" cy="334.7" r="1.3" fill="#e8141a"/>
<circle cx="97.5" cy="345.2" r="1.3" fill="#1f68ad"/>
<circle cx="101.3" cy="345.0" r="1.3" fill="#1f68ad"/>
<circle cx="102.2" cy="303.2" r="1.3" fill="#1f68ad"/>
<circle cx="92.3" cy="343.2" r="1.3" fill="#1f68ad"/>
<circle cx="80.3" cy="336.3" r="1.3" fill="#1f68ad"/>
<circle cx="98.6" cy="318.9" r="1.3" fill="#1f68ad"/>
<circle cx="111.2" cy="335.0" r="1.3" fill="#e8141a"/>
<circle cx="99.0" cy="332.3" r="1.3" fill="#1f68ad"/>
<circle cx="132.4" cy="328.4" r="1.3" fill="#e8141a"/>
<circle cx="96.1" cy="328.8" r="1.3" fill="#1f68ad"/>
<circle cx="118.1" cy="362.2" r="1.3" fill="#e8141a"/>
<circle cx="99.4" cy="345.7" r="1.3" fill="#1f68ad"/>
<circle cx="105.3" cy="370.9" r="1.3" fill="#e8141a"/>
<circle cx="106.5" cy="347.1" r="1.3" fill="#e8141a"/>
<circle cx="85.9" cy="367.4" r="1.3" fill="#1f68ad"/>
<circle cx="121.5" cy="322.5" r="1.3" fill="#e8141a"/>
<circle cx="130.4" cy="353.6" r="1.3" fill="#e8141a"/>
<circle cx="140.9" cy="320.5" r="1.3" fill="#e8141a"/>
<circle cx="96.6" cy="347.3" r="1.3" fill="#1f68ad"/>
<circle cx="97.4" cy="323.2" r="1.3" fill="#1f68ad"/>
<circle cx="84.1" cy="343.3" r="1.3" fill="#1f68ad"/>
<circle cx="104.8" cy="316.2" r="1.3" fill="#e8141a"/>
<circle cx="146.5" cy="322.8" r="1.3" fill="#e8141a"/>
<circle cx="111.5" cy="337.9" r="1.3" fill="#e8141a"/>
<circle cx="119.6" cy="354.4" r="1.3" fill="#e8141a"/>
<circle cx="94.7" cy="332.8" r="1.3" fill="#1f68ad"/>
<circle cx="93.8" cy="334.5" r="1.3" fill="#1f68ad"/>
<circle cx="108.0" cy="326.0" r="1.3" fill="#e8141a"/>
<circle cx="80.1" cy="328.1" r="1.3" fill="#1f68ad"/>
<circle cx="100.9" cy="341.6" r="1.3" fill="#1f68ad"/>
<circle cx="131.6" cy="348.3" r="1.3" fill="#e8141a"/>
<circle cx="72.0" cy="343.8" r="1.3" fill="#1f68ad"/>
<circle cx="121.2" cy="311.4" r="1.3" fill="#e8141a"/>
<circle cx="131.8" cy="353.6" r="1.3" fill="#e8141a"/>
<circle cx="127.6" cy="347.8" r="1.3" fill="#e8141a"/>
<circle cx="68.3" cy="335.5" r="1.3" fill="#1f68ad"/>
<circle cx="131.5" cy="339.9" r="1.3" fill="#e8141a"/>
<circle cx="120.9" cy="346.0" r="1.3" fill="#e8141a"/>
<circle cx="144.4" cy="350.4" r="1.3" fill="#e8141a"/>
<circle cx="121.8" cy="294.8" r="1.3" fill="#e8141a"/>
<circle cx="70.6" cy="336.2" r="1.3" fill="#1f68ad"/>
<circle cx="72.6" cy="347.6" r="1.3" fill="#1f68ad"/>
<circle cx="116.8" cy="311.4" r="1.3" fill="#e8141a"/>
<circle cx="82.2" cy="331.6" r="1.3" fill="#1f68ad"/>
<circle cx="112.7" cy="353.1" r="1.3" fill="#e8141a"/>
<circle cx="90.3" cy="331.9" r="1.3" fill="#1f68ad"/>
<circle cx="79.1" cy="345.0" r="1.3" fill="#1f68ad"/>
<circle cx="65.5" cy="342.8" r="1.3" fill="#1f68ad"/>
<circle cx="78.1" cy="343.0" r="1.3" fill="#1f68ad"/>
<circle cx="122.1" cy="316.3" r="1.3" fill="#e8141a"/>
<circle cx="116.0" cy="342.8" r="1.3" fill="#e8141a"/>
<circle cx="109.6" cy="330.3" r="1.3" fill="#e8141a"/>
<circle cx="85.3" cy="339.7" r="1.3" fill="#1f68ad"/>
<circle cx="86.5" cy="350.3" r="1.3" fill="#1f68ad"/>
<circle cx="139.9" cy="352.8" r="1.3" fill="#e8141a"/>
<circle cx="77.4" cy="326.7" r="1.3" fill="#1f68ad"/>
<circle cx="142.9" cy="333.1" r="1.3" fill="#e8141a"/>
<circle cx="99.5" cy="336.0" r="1.3" fill="#1f68ad"/>
<circle cx="108.6" cy="342.1" r="1.3" fill="#e8141a"/>
<circle cx="104.3" cy="325.9" r="1.3" fill="#e8141a"/>
<circle cx="114.4" cy="322.4" r="1.3" fill="#e8141a"/>
<circle cx="118.5" cy="307.4" r="1.3" fill="#e8141a"/>
<circle cx="97.5" cy="325.0" r="1.3" fill="#1f68ad"/>
<circle cx="86.2" cy="300.2" r="1.3" fill="#1f68ad"/>
<circle cx="112.1" cy="343.0" r="1.3" fill="#e8141a"/>
<circle cx="107.9" cy="347.4" r="1.3" fill="#e8141a"/>
<circle cx="129.7" cy="336.2" r="1.3" fill="#e8141a"/>
<circle cx="80.3" cy="331.9" r="1.3" fill="#1f68ad"/>
<circle cx="82.8" cy="326.7" r="1.3" fill="#1f68ad"/>
<circle cx="91.2" cy="340.5" r="1.3" fill="#1f68ad"/>
<circle cx="128.8" cy="311.1" r="1.3" fill="#e8141a"/>
<circle cx="107.0" cy="331.9" r="1.3" fill="#e8141a"/>
<circle cx="74.4" cy="338.0" r="1.3" fill="#1f68ad"/>
<circle cx="122.2" cy="341.0" r="1.3" fill="#e8141a"/>
<circle cx="97.0" cy="322.2" r="1.3" fill="#1f68ad"/>
<circle cx="119.0" cy="353.7" r="1.3" fill="#e8141a"/>
<circle cx="100.3" cy="335.1" r="1.3" fill="#1f68ad"/>
<circle cx="107.9" cy="313.3" r="1.3" fill="#e8141a"/>
<circle cx="95.9" cy="338.7" r="1.3" fill="#1f68ad"/>
<circle cx="120.5" cy="338.7" r="1.3" fill="#e8141a"/>
<circle cx="147.1" cy="333.9" r="1.3" fill="#e8141a"/>
<circle cx="113.2" cy="305.8" r="1.3" fill="#e8141a"/>
<circle cx="92.0" cy="300.9" r="1.3" fill="#1f68ad"/>
<circle cx="107.7" cy="332.3" r="1.3" fill="#e8141a"/>
<circle cx="93.3" cy="361.0" r="1.3" fill="#1f68ad"/>
<circle cx="70.5" cy="336.3" r="1.3" fill="#1f68ad"/>
<circle cx="122.9" cy="337.3" r="1.3" fill="#e8141a"/>
<circle cx="88.3" cy="343.4" r="1.3" fill="#1f68ad"/>
<circle cx="81.3" cy="304.3" r="1.3" fill="#1f68ad"/>
<circle cx="93.9" cy="314.6" r="1.3" fill="#1f68ad"/>
<circle cx="98.7" cy="338.8" r="1.3" fill="#1f68ad"/>
<circle cx="102.2" cy="333.2" r="1.3" fill="#1f68ad"/>
<circle cx="92.0" cy="344.3" r="1.3" fill="#1f68ad"/>
<circle cx="67.1" cy="327.1" r="1.3" fill="#1f68ad"/>
<circle cx="103.5" cy="285.4" r="1.3" fill="#e8141a"/>
<circle cx="130.5" cy="319.2" r="1.3" fill="#e8141a"/>
<circle cx="118.2" cy="353.6" r="1.3" fill="#e8141a"/>
<circle cx="82.9" cy="339.1" r="1.3" fill="#1f68ad"/>
<circle cx="118.3" cy="324.4" r="1.3" fill="#e8141a"/>
<circle cx="115.7" cy="358.9" r="1.3" fill="#e8141a"/>
<circle cx="153.5" cy="339.3" r="1.3" fill="#e8141a"/>
<circle cx="69.2" cy="301.3" r="1.3" fill="#1f68ad"/>
<circle cx="83.3" cy="333.7" r="1.3" fill="#1f68ad"/>
<circle cx="118.0" cy="326.2" r="1.3" fill="#e8141a"/>
<circle cx="83.7" cy="346.9" r="1.3" fill="#1f68ad"/>
<circle cx="79.4" cy="352.2" r="1.3" fill="#1f68ad"/>
<circle cx="95.1" cy="321.1" r="1.3" fill="#1f68ad"/>
<circle cx="126.5" cy="359.4" r="1.3" fill="#e8141a"/>
<circle cx="118.1" cy="327.8" r="1.3" fill="#e8141a"/>
<circle cx="115.4" cy="347.6" r="1.3" fill="#e8141a"/>
<circle cx="79.2" cy="323.7" r="1.3" fill="#1f68ad"/>
<circle cx="114.6" cy="328.5" r="1.3" fill="#e8141a"/>
<circle cx="81.7" cy="333.9" r="1.3" fill="#1f68ad"/>
<circle cx="86.8" cy="348.5" r="1.3" fill="#1f68ad"/>
<circle cx="97.2" cy="311.7" r="1.3" fill="#1f68ad"/>
<circle cx="99.0" cy="342.6" r="1.3" fill="#1f68ad"/>
<circle cx="105.4" cy="367.2" r="1.3" fill="#e8141a"/>
<circle cx="78.4" cy="357.5" r="1.3" fill="#1f68ad"/>
<circle cx="123.3" cy="363.3" r="1.3" fill="#e8141a"/>
<circle cx="93.5" cy="331.3" r="1.3" fill="#1f68ad"/>
<circle cx="101.2" cy="298.4" r="1.3" fill="#1f68ad"/>
<circle cx="103.6" cy="344.0" r="1.3" fill="#1f68ad"/>
<circle cx="124.4" cy="349.3" r="1.3" fill="#e8141a"/>
<circle cx="116.8" cy="348.4" r="1.3" fill="#e8141a"/>
<circle cx="90.4" cy="338.0" r="1.3" fill="#1f68ad"/>
<circle cx="90.0" cy="326.9" r="1.3" fill="#1f68ad"/>
<circle cx="76.1" cy="369.8" r="1.3" fill="#1f68ad"/>
<circle cx="85.5" cy="348.3" r="1.3" fill="#1f68ad"/>
<circle cx="45.3" cy="336.9" r="1.3" fill="#1f68ad"/>
<circle cx="119.4" cy="340.6" r="1.3" fill="#e8141a"/>
<circle cx="123.5" cy="319.3" r="1.3" fill="#e8141a"/>
<circle cx="109.8" cy="362.6" r="1.3" fill="#e8141a"/>
<circle cx="110.4" cy="326.6" r="1.3" fill="#e8141a"/>
</g>
<text x="88.80" y="339.70" font-size="9.6" text-anchor="middle" fill="#000" >A</text>
<rect x="96.0" y="348.9" width="3.8" height="3.8" fill="none" stroke="#dfe9f3" stroke-width="0.8"/>
<text x="116.70" y="339.70" font-size="9.6" text-anchor="middle" fill="#000" >B</text>
<text x="181.30" y="254.00" font-size="9.2" text-anchor="start" fill="#111" >MAG cluster</text>
<circle cx="186.5" cy="263.1" r="1.3" fill="#1f68ad"/>
<circle cx="186.5" cy="273.0" r="1.3" fill="#e8141a"/>
<text x="194.90" y="264.80" font-size="9" text-anchor="start" fill="#111" >A</text>
<text x="194.90" y="274.60" font-size="9" text-anchor="start" fill="#111" >B</text>
<text x="207.50" y="241.80" font-size="18" text-anchor="start" fill="#000" >E</text>
<line x1="241.50" y1="257" x2="241.50" y2="402.6" stroke="#888" stroke-width="0.9"/>
<line x1="241.05" y1="402.2" x2="334.90" y2="402.2" stroke="#888" stroke-width="0.9"/>
<line x1="239.70" y1="401.50" x2="241.50" y2="401.50" stroke="#888" stroke-width="0.8"/>
<text x="238.90" y="404.70" font-size="9" text-anchor="end" fill="#111" >2</text>
<line x1="239.70" y1="366.80" x2="241.50" y2="366.80" stroke="#888" stroke-width="0.8"/>
<text x="238.90" y="370.00" font-size="9" text-anchor="end" fill="#111" >3</text>
<line x1="239.70" y1="332.10" x2="241.50" y2="332.10" stroke="#888" stroke-width="0.8"/>
<text x="238.90" y="335.30" font-size="9" text-anchor="end" fill="#111" >4</text>
<line x1="239.70" y1="297.40" x2="241.50" y2="297.40" stroke="#888" stroke-width="0.8"/>
<text x="238.90" y="300.60" font-size="9" text-anchor="end" fill="#111" >5</text>
<line x1="239.70" y1="262.70" x2="241.50" y2="262.70" stroke="#888" stroke-width="0.8"/>
<text x="238.90" y="265.90" font-size="9" text-anchor="end" fill="#111" >6</text>
<text x="229.40" y="324.70" font-size="9.1" text-anchor="middle" fill="#111" transform="rotate(-90 229.40 324.70)" >NUP93</text>
<line x1="266.70" y1="322.40" x2="266.70" y2="386.20" stroke="#6a6a6a" stroke-width="0.85"/>
<rect x="251.70" y="346.20" width="30.00" height="18.50" fill="#1f66a8" stroke="#222" stroke-width="0.5"/>
<line x1="251.70" y1="354.50" x2="281.70" y2="354.50" stroke="#111" stroke-width="1.1"/>
<circle cx="266.70" cy="395.30" r="1.2" fill="#111"/>
<line x1="266.70" y1="402.2" x2="266.70" y2="403.9" stroke="#666" stroke-width="0.8"/>
<line x1="309.50" y1="289.00" x2="309.50" y2="371.90" stroke="#6a6a6a" stroke-width="0.85"/>
<rect x="294.50" y="320.10" width="30.00" height="20.70" fill="#e41414" stroke="#222" stroke-width="0.5"/>
<line x1="294.50" y1="331.30" x2="324.50" y2="331.30" stroke="#111" stroke-width="1.1"/>
<circle cx="309.50" cy="269.90" r="1.2" fill="#111"/>
<circle cx="309.50" cy="286.80" r="1.2" fill="#111"/>
<circle cx="309.50" cy="378.00" r="1.2" fill="#111"/>
<line x1="309.50" y1="402.2" x2="309.50" y2="403.9" stroke="#666" stroke-width="0.8"/>
<text x="267.90" y="411.90" font-size="9" text-anchor="middle" fill="#111" >A</text>
<text x="310.70" y="411.90" font-size="9" text-anchor="middle" fill="#111" >B</text>
<path d="M266.70,266.4 V263.3 H309.50 V266.4" fill="none" stroke="#888" stroke-width="0.7"/>
<text x="291.70" y="259.30" font-size="9.2" text-anchor="middle" fill="#111" >p &lt; 2.22e&#8722;16</text>
<text x="336.40" y="241.80" font-size="18" text-anchor="start" fill="#000" >F</text>
<line x1="355.70" y1="257" x2="355.70" y2="402.6" stroke="#888" stroke-width="0.9"/>
<line x1="355.25" y1="402.2" x2="449.30" y2="402.2" stroke="#888" stroke-width="0.9"/>
<line x1="353.90" y1="392.90" x2="355.70" y2="392.90" stroke="#888" stroke-width="0.8"/>
<text x="353.10" y="396.10" font-size="9" text-anchor="end" fill="#111" >3</text>
<line x1="353.90" y1="361.40" x2="355.70" y2="361.40" stroke="#888" stroke-width="0.8"/>
<text x="353.10" y="364.60" font-size="9" text-anchor="end" fill="#111" >4</text>
<line x1="353.90" y1="329.90" x2="355.70" y2="329.90" stroke="#888" stroke-width="0.8"/>
<text x="353.10" y="333.10" font-size="9" text-anchor="end" fill="#111" >5</text>
<line x1="353.90" y1="298.40" x2="355.70" y2="298.40" stroke="#888" stroke-width="0.8"/>
<text x="353.10" y="301.60" font-size="9" text-anchor="end" fill="#111" >6</text>
<line x1="353.90" y1="266.90" x2="355.70" y2="266.90" stroke="#888" stroke-width="0.8"/>
<text x="353.10" y="270.10" font-size="9" text-anchor="end" fill="#111" >7</text>
<text x="343.30" y="327.00" font-size="9.1" text-anchor="middle" fill="#111" transform="rotate(-90 343.30 327.00)" >CUL1</text>
<line x1="381.30" y1="321.20" x2="381.30" y2="380.90" stroke="#6a6a6a" stroke-width="0.85"/>
<rect x="366.30" y="342.10" width="30.00" height="15.80" fill="#1f66a8" stroke="#222" stroke-width="0.5"/>
<line x1="366.30" y1="349.80" x2="396.30" y2="349.80" stroke="#111" stroke-width="1.1"/>
<circle cx="381.30" cy="309.00" r="1.2" fill="#111"/>
<circle cx="381.30" cy="310.50" r="1.2" fill="#111"/>
<circle cx="381.30" cy="313.50" r="1.2" fill="#111"/>
<circle cx="381.30" cy="382.40" r="1.2" fill="#111"/>
<circle cx="381.30" cy="383.50" r="1.2" fill="#111"/>
<circle cx="381.30" cy="384.60" r="1.2" fill="#111"/>
<circle cx="381.30" cy="385.60" r="1.2" fill="#111"/>
<circle cx="381.30" cy="386.80" r="1.2" fill="#111"/>
<circle cx="381.30" cy="395.60" r="1.2" fill="#111"/>
<line x1="381.30" y1="402.2" x2="381.30" y2="403.9" stroke="#666" stroke-width="0.8"/>
<line x1="423.60" y1="305.90" x2="423.60" y2="359.40" stroke="#6a6a6a" stroke-width="0.85"/>
<rect x="408.60" y="327.20" width="30.00" height="14.00" fill="#e41414" stroke="#222" stroke-width="0.5"/>
<line x1="408.60" y1="335.20" x2="438.60" y2="335.20" stroke="#111" stroke-width="1.1"/>
<circle cx="423.60" cy="269.90" r="1.2" fill="#111"/>
<circle cx="423.60" cy="280.70" r="1.2" fill="#111"/>
<circle cx="423.60" cy="294.80" r="1.2" fill="#111"/>
<circle cx="423.60" cy="296.50" r="1.2" fill="#111"/>
<circle cx="423.60" cy="298.00" r="1.2" fill="#111"/>
<circle cx="423.60" cy="299.50" r="1.2" fill="#111"/>
<circle cx="423.60" cy="301.00" r="1.2" fill="#111"/>
<circle cx="423.60" cy="302.50" r="1.2" fill="#111"/>
<circle cx="423.60" cy="304.00" r="1.2" fill="#111"/>
<circle cx="423.60" cy="305.00" r="1.2" fill="#111"/>
<line x1="423.60" y1="402.2" x2="423.60" y2="403.9" stroke="#666" stroke-width="0.8"/>
<text x="382.50" y="411.90" font-size="9" text-anchor="middle" fill="#111" >A</text>
<text x="424.80" y="411.90" font-size="9" text-anchor="middle" fill="#111" >B</text>
<path d="M381.30,266.4 V263.3 H423.60 V266.4" fill="none" stroke="#888" stroke-width="0.7"/>
<text x="402.70" y="259.30" font-size="9.2" text-anchor="middle" fill="#111" >p &lt; 2.22e&#8722;16</text>
<text x="449.30" y="241.80" font-size="18" text-anchor="start" fill="#000" >G</text>
<line x1="478.90" y1="257" x2="478.90" y2="402.6" stroke="#888" stroke-width="0.9"/>
<line x1="478.45" y1="402.2" x2="569.00" y2="402.2" stroke="#888" stroke-width="0.9"/>
<line x1="477.10" y1="375.90" x2="478.90" y2="375.90" stroke="#888" stroke-width="0.8"/>
<text x="476.30" y="379.10" font-size="9" text-anchor="end" fill="#111" >8</text>
<line x1="477.10" y1="339.20" x2="478.90" y2="339.20" stroke="#888" stroke-width="0.8"/>
<text x="476.30" y="342.40" font-size="9" text-anchor="end" fill="#111" >9</text>
<line x1="477.10" y1="302.50" x2="478.90" y2="302.50" stroke="#888" stroke-width="0.8"/>
<text x="476.30" y="305.70" font-size="9" text-anchor="end" fill="#111" >10</text>
<line x1="477.10" y1="265.80" x2="478.90" y2="265.80" stroke="#888" stroke-width="0.8"/>
<text x="476.30" y="269.00" font-size="9" text-anchor="end" fill="#111" >11</text>
<text x="463.50" y="325.00" font-size="9.1" text-anchor="middle" fill="#111" transform="rotate(-90 463.50 325.00)" >RPL18</text>
<line x1="503.30" y1="298.80" x2="503.30" y2="375.90" stroke="#6a6a6a" stroke-width="0.85"/>
<rect x="488.90" y="325.00" width="28.80" height="22.10" fill="#1f66a8" stroke="#222" stroke-width="0.5"/>
<line x1="488.90" y1="335.30" x2="517.70" y2="335.30" stroke="#111" stroke-width="1.1"/>
<circle cx="503.30" cy="381.80" r="1.2" fill="#111"/>
<circle cx="503.30" cy="383.80" r="1.2" fill="#111"/>
<circle cx="503.30" cy="387.40" r="1.2" fill="#111"/>
<circle cx="503.30" cy="389.10" r="1.2" fill="#111"/>
<circle cx="503.30" cy="395.60" r="1.2" fill="#111"/>
<line x1="503.30" y1="402.2" x2="503.30" y2="403.9" stroke="#666" stroke-width="0.8"/>
<line x1="544.50" y1="274.00" x2="544.50" y2="338.20" stroke="#6a6a6a" stroke-width="0.85"/>
<rect x="530.10" y="300.40" width="28.80" height="18.10" fill="#e41414" stroke="#222" stroke-width="0.5"/>
<line x1="530.10" y1="310.20" x2="558.90" y2="310.20" stroke="#111" stroke-width="1.1"/>
<circle cx="544.50" cy="269.90" r="1.2" fill="#111"/>
<circle cx="544.50" cy="271.20" r="1.2" fill="#111"/>
<circle cx="544.50" cy="272.20" r="1.2" fill="#111"/>
<circle cx="544.50" cy="349.10" r="1.2" fill="#111"/>
<circle cx="544.50" cy="359.40" r="1.2" fill="#111"/>
<circle cx="544.50" cy="372.00" r="1.2" fill="#111"/>
<line x1="544.50" y1="402.2" x2="544.50" y2="403.9" stroke="#666" stroke-width="0.8"/>
<text x="504.50" y="411.90" font-size="9" text-anchor="middle" fill="#111" >A</text>
<text x="545.70" y="411.90" font-size="9" text-anchor="middle" fill="#111" >B</text>
<path d="M503.30,266.4 V263.3 H544.50 V266.4" fill="none" stroke="#888" stroke-width="0.7"/>
<text x="527.70" y="259.30" font-size="9.2" text-anchor="middle" fill="#111" >p &lt; 2.22e&#8722;16</text>
<text x="568.30" y="241.80" font-size="18" text-anchor="start" fill="#000" >H</text>
<line x1="591.50" y1="257" x2="591.50" y2="402.6" stroke="#888" stroke-width="0.9"/>
<line x1="591.05" y1="402.2" x2="685.00" y2="402.2" stroke="#888" stroke-width="0.9"/>
<line x1="589.70" y1="381.80" x2="591.50" y2="381.80" stroke="#888" stroke-width="0.8"/>
<text x="588.90" y="385.00" font-size="9" text-anchor="end" fill="#111" >4</text>
<line x1="589.70" y1="347.00" x2="591.50" y2="347.00" stroke="#888" stroke-width="0.8"/>
<text x="588.90" y="350.20" font-size="9" text-anchor="end" fill="#111" >5</text>
<line x1="589.70" y1="312.20" x2="591.50" y2="312.20" stroke="#888" stroke-width="0.8"/>
<text x="588.90" y="315.40" font-size="9" text-anchor="end" fill="#111" >6</text>
<line x1="589.70" y1="277.40" x2="591.50" y2="277.40" stroke="#888" stroke-width="0.8"/>
<text x="588.90" y="280.60" font-size="9" text-anchor="end" fill="#111" >7</text>
<text x="578.30" y="324.20" font-size="9.1" text-anchor="middle" fill="#111" transform="rotate(-90 578.30 324.20)" >PRPF8</text>
<line x1="616.70" y1="302.60" x2="616.70" y2="364.10" stroke="#6a6a6a" stroke-width="0.85"/>
<rect x="601.70" y="326.20" width="30.00" height="16.00" fill="#1f66a8" stroke="#222" stroke-width="0.5"/>
<line x1="601.70" y1="333.80" x2="631.70" y2="333.80" stroke="#111" stroke-width="1.1"/>
<circle cx="616.70" cy="287.80" r="1.2" fill="#111"/>
<circle cx="616.70" cy="293.40" r="1.2" fill="#111"/>
<circle cx="616.70" cy="295.20" r="1.2" fill="#111"/>
<circle cx="616.70" cy="301.90" r="1.2" fill="#111"/>
<circle cx="616.70" cy="372.00" r="1.2" fill="#111"/>
<circle cx="616.70" cy="376.50" r="1.2" fill="#111"/>
<circle cx="616.70" cy="395.60" r="1.2" fill="#111"/>
<line x1="616.70" y1="402.2" x2="616.70" y2="403.9" stroke="#666" stroke-width="0.8"/>
<line x1="659.50" y1="282.40" x2="659.50" y2="345.00" stroke="#6a6a6a" stroke-width="0.85"/>
<rect x="644.50" y="308.80" width="30.00" height="16.70" fill="#e41414" stroke="#222" stroke-width="0.5"/>
<line x1="644.50" y1="317.30" x2="674.50" y2="317.30" stroke="#111" stroke-width="1.1"/>
<circle cx="659.50" cy="269.90" r="1.2" fill="#111"/>
<circle cx="659.50" cy="278.80" r="1.2" fill="#111"/>
<circle cx="659.50" cy="280.70" r="1.2" fill="#111"/>
<circle cx="659.50" cy="353.80" r="1.2" fill="#111"/>
<circle cx="659.50" cy="357.40" r="1.2" fill="#111"/>
<line x1="659.50" y1="402.2" x2="659.50" y2="403.9" stroke="#666" stroke-width="0.8"/>
<text x="617.90" y="411.90" font-size="9" text-anchor="middle" fill="#111" >A</text>
<text x="660.70" y="411.90" font-size="9" text-anchor="middle" fill="#111" >B</text>
<path d="M616.70,266.4 V263.3 H659.50 V266.4" fill="none" stroke="#888" stroke-width="0.7"/>
<text x="638.40" y="259.30" font-size="9.2" text-anchor="middle" fill="#111" >p &lt; 2.22e&#8722;16</text>
</svg>
</body></html>
